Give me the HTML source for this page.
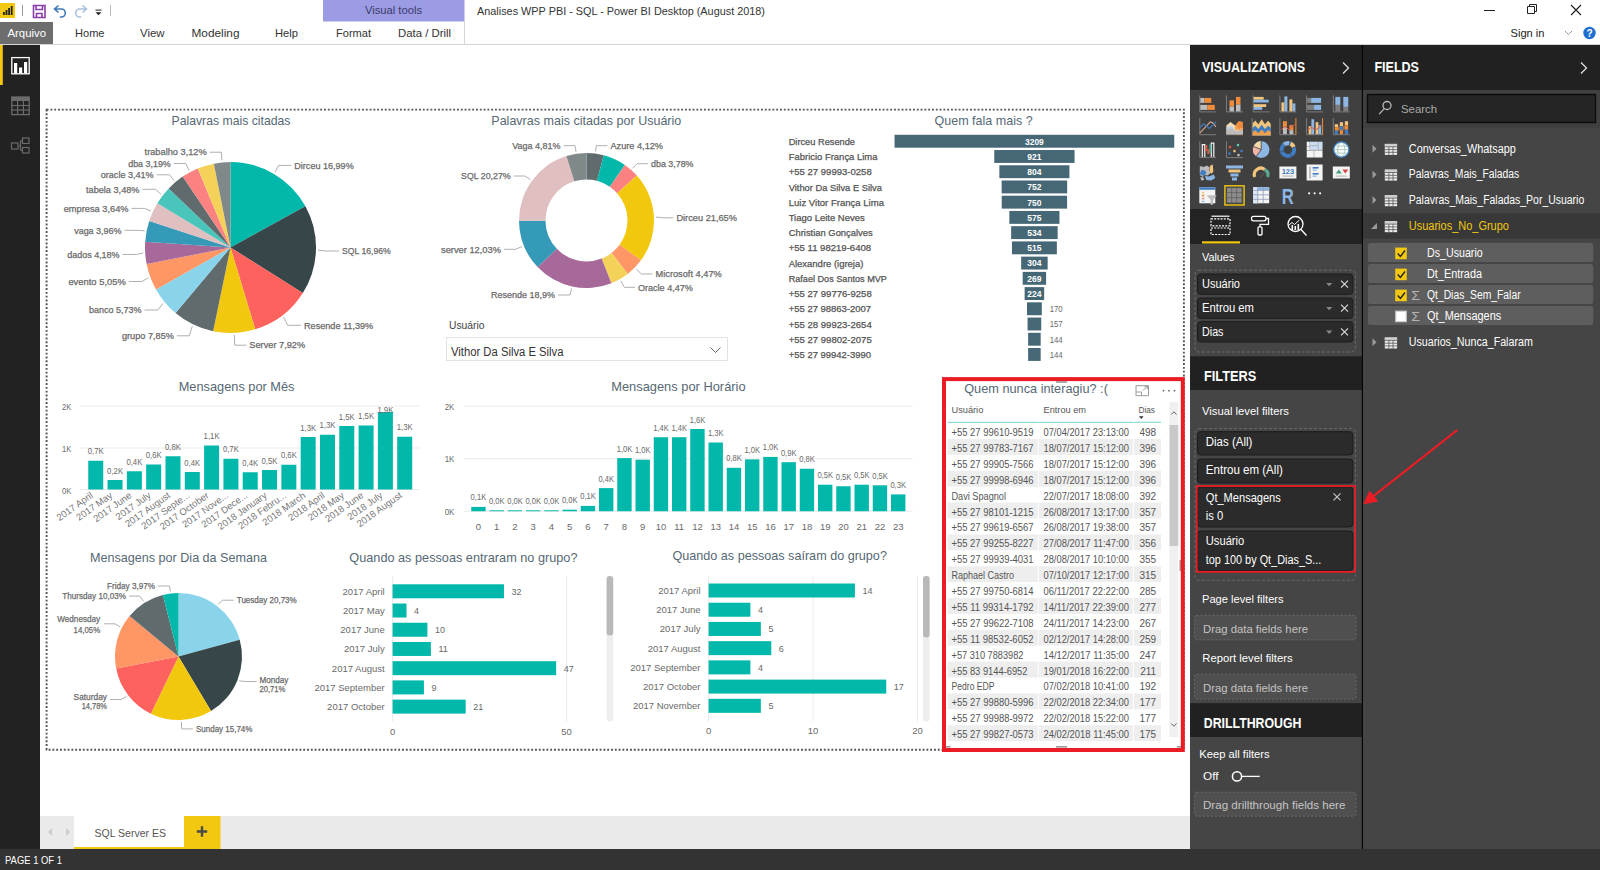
<!DOCTYPE html>
<html lang="pt-BR"><head><meta charset="utf-8"><title>Analises WPP PBI - SQL - Power BI Desktop</title>
<style>
html,body{margin:0;padding:0;background:#fff;width:1600px;height:870px;overflow:hidden}
svg{display:block;font-family:"Liberation Sans", sans-serif}
text{white-space:pre}
</style></head><body>
<svg width="1600" height="870" viewBox="0 0 1600 870">
<g id="titlebar">
<rect x="0.00" y="0.00" width="1600.00" height="45.00" fill="#ffffff"/>
<rect x="0.00" y="3.00" width="15.00" height="15.00" fill="#f2c811"/>
<rect x="3.00" y="12.00" width="1.80" height="3.00" fill="#222"/>
<rect x="5.60" y="10.00" width="1.80" height="5.00" fill="#222"/>
<rect x="8.20" y="8.00" width="1.80" height="7.00" fill="#222"/>
<rect x="10.80" y="6.00" width="1.80" height="9.00" fill="#222"/>
<line x1="22.50" y1="5.00" x2="22.50" y2="16.00" stroke="#999" stroke-width="1"/>
<path d="M33.5 5.5h11.5v12h-11.5z M36 5.5v4h6.5v-4 M36.5 17.5v-4h5.5v4" fill="none" stroke="#8a3fa8" stroke-width="1.6"/>
<path d="M58.5 5.5l-4 3.5 4 3.5 M54.8 9h6.5a4 4 0 0 1 0 8h-1.5" fill="none" stroke="#3c78b8" stroke-width="1.6"/>
<path d="M82.5 5.5l4 3.5-4 3.5 M86.2 9h-6.5a4 4 0 0 0 0 8h1.5" fill="none" stroke="#a9bfdb" stroke-width="1.6"/>
<rect x="95.50" y="9.50" width="6.00" height="1.20" fill="#444"/>
<path d="M95.5 12.2h6l-3 3z" fill="#222"/>
<line x1="110.50" y1="5.00" x2="110.50" y2="16.00" stroke="#bbb" stroke-width="1"/>
<rect x="323.00" y="0.00" width="141.50" height="21.50" fill="#9c9ce4"/>
<text x="393.5" y="13.6" font-size="11" fill="#3b3b6b" text-anchor="middle" textLength="57" lengthAdjust="spacingAndGlyphs">Visual tools</text>
<line x1="464.50" y1="21.00" x2="464.50" y2="44.00" stroke="#d8d8d8" stroke-width="1"/>
<text x="477.0" y="15.3" font-size="11.5" fill="#333" textLength="288" lengthAdjust="spacingAndGlyphs">Analises WPP PBI - SQL - Power BI Desktop (August 2018)</text>
<line x1="1484.00" y1="10.50" x2="1495.00" y2="10.50" stroke="#222" stroke-width="1"/>
<path d="M1527.5 6.5h7v7h-7z M1529.5 6.5v-2h7v7h-2" fill="none" stroke="#222" stroke-width="1"/>
<path d="M1571 5l10 10M1581 5l-10 10" stroke="#222" stroke-width="1.2"/>
<text x="1510.5" y="37.0" font-size="11.5" fill="#222" textLength="34" lengthAdjust="spacingAndGlyphs">Sign in</text>
<path d="M1565 31l3.5 3.5 3.5-3.5" fill="none" stroke="#999" stroke-width="1"/>
<circle cx="1589.5" cy="33" r="6.2" fill="#1f6fd0"/>
<text x="1589.5" y="37.0" font-size="10" fill="#fff" text-anchor="middle" font-weight="bold">?</text>
<rect x="0.00" y="22.00" width="53.00" height="22.00" fill="#6d6d6d"/>
<text x="7.5" y="36.8" font-size="11" fill="#fff" textLength="38.5" lengthAdjust="spacingAndGlyphs">Arquivo</text>
<text x="75.0" y="36.8" font-size="11" fill="#333" textLength="29.5" lengthAdjust="spacingAndGlyphs">Home</text>
<text x="140.0" y="36.8" font-size="11" fill="#333" textLength="24.5" lengthAdjust="spacingAndGlyphs">View</text>
<text x="191.5" y="36.8" font-size="11" fill="#333" textLength="48" lengthAdjust="spacingAndGlyphs">Modeling</text>
<text x="275.0" y="36.8" font-size="11" fill="#333" textLength="23" lengthAdjust="spacingAndGlyphs">Help</text>
<text x="336.0" y="36.8" font-size="11" fill="#333" textLength="35" lengthAdjust="spacingAndGlyphs">Format</text>
<text x="398.0" y="36.8" font-size="11" fill="#333" textLength="53" lengthAdjust="spacingAndGlyphs">Data / Drill</text>
<line x1="0.00" y1="44.50" x2="1600.00" y2="44.50" stroke="#d4d4d4" stroke-width="1"/>
</g>
<g id="leftnav">
<rect x="0.00" y="45.00" width="40.00" height="804.00" fill="#222222"/>
<rect x="0.00" y="45.00" width="2.80" height="40.00" fill="#f2c811"/>
<rect x="11.8" y="57.6" width="17.4" height="16.2" fill="none" stroke="#fff" stroke-width="1.3"/>
<rect x="14.00" y="63.00" width="3.20" height="10.50" fill="#fff"/>
<rect x="19.00" y="67.50" width="3.20" height="6.00" fill="#fff"/>
<rect x="24.00" y="62.00" width="3.20" height="11.50" fill="#fff"/>
<rect x="11.8" y="97" width="17.4" height="17.6" fill="none" stroke="#6b6b6b" stroke-width="1.3"/>
<rect x="11.80" y="97.00" width="17.40" height="4.00" fill="#6b6b6b"/>
<line x1="17.60" y1="101.00" x2="17.60" y2="114.60" stroke="#6b6b6b" stroke-width="1.2"/>
<line x1="23.40" y1="101.00" x2="23.40" y2="114.60" stroke="#6b6b6b" stroke-width="1.2"/>
<line x1="11.80" y1="105.50" x2="29.20" y2="105.50" stroke="#6b6b6b" stroke-width="1.2"/>
<line x1="11.80" y1="110.00" x2="29.20" y2="110.00" stroke="#6b6b6b" stroke-width="1.2"/>
<g fill="none" stroke="#6b6b6b" stroke-width="1.2"><rect x="11.5" y="143" width="6.5" height="6"/><rect x="22.5" y="138" width="6.5" height="5.5"/><rect x="22.5" y="147.5" width="6.5" height="5.5"/><path d="M18 146h2.5M20.5 140.8v9.5M20.5 140.8h2M20.5 150.3h2"/></g>
</g>
<g id="canvas">
<rect x="40.00" y="45.00" width="1150.00" height="771.00" fill="#ffffff"/>
<rect x="46.6" y="109.6" width="1137.3" height="640.1" fill="none" stroke="#555" stroke-width="1.9" stroke-dasharray="1.9 1.9"/>
<rect x="40.00" y="816.00" width="1150.00" height="33.00" fill="#eaeaea"/>
<path d="M52 828l-4 4 4 4z" fill="#ccc"/><path d="M66 828l4 4-4 4z" fill="#ccc"/>
<rect x="74.00" y="816.00" width="110.00" height="33.00" fill="#ffffff"/>
<rect x="74.00" y="847.00" width="110.00" height="2.00" fill="#f2c811"/>
<text x="94.5" y="836.5" font-size="11.5" fill="#555" textLength="71.5" lengthAdjust="spacingAndGlyphs">SQL Server ES</text>
<rect x="184.00" y="816.00" width="36.50" height="33.00" fill="#f2c811"/>
<path d="M202 826.3v10.400M196.800 831.500h10.400" stroke="#4a4a4a" stroke-width="2.4"/>
</g>
<rect x="0.00" y="849.00" width="1600.00" height="21.00" fill="#333333"/>
<text x="5.0" y="863.5" font-size="10.5" fill="#fff" textLength="57" lengthAdjust="spacingAndGlyphs">PAGE 1 OF 1</text>
<g id="pie-palavras">
<text x="231.0" y="125.0" font-size="13.5" fill="#566874" text-anchor="middle" textLength="119" lengthAdjust="spacingAndGlyphs">Palavras mais citadas</text>
<path d="M230.5 247.5L230.50 162.00A85.5 85.5 0 0 1 305.40 206.26Z" fill="#01B8AA"/>
<path d="M230.5 247.5L305.40 206.26A85.5 85.5 0 0 1 302.83 293.09Z" fill="#374649"/>
<path d="M230.5 247.5L302.83 293.09A85.5 85.5 0 0 1 255.18 329.36Z" fill="#FD625E"/>
<path d="M230.5 247.5L255.18 329.36A85.5 85.5 0 0 1 213.11 331.21Z" fill="#F2C80F"/>
<path d="M230.5 247.5L213.11 331.21A85.5 85.5 0 0 1 175.55 313.00Z" fill="#5F6B6D"/>
<path d="M230.5 247.5L175.55 313.00A85.5 85.5 0 0 1 155.99 289.44Z" fill="#8AD4EB"/>
<path d="M230.5 247.5L155.99 289.44A85.5 85.5 0 0 1 146.63 264.10Z" fill="#FE9666"/>
<path d="M230.5 247.5L146.63 264.10A85.5 85.5 0 0 1 145.19 241.76Z" fill="#A66999"/>
<path d="M230.5 247.5L145.19 241.76A85.5 85.5 0 0 1 149.23 220.93Z" fill="#3599B8"/>
<path d="M230.5 247.5L149.23 220.93A85.5 85.5 0 0 1 157.38 203.19Z" fill="#DFBFBF"/>
<path d="M230.5 247.5L157.38 203.19A85.5 85.5 0 0 1 168.73 188.39Z" fill="#4AC5BB"/>
<path d="M230.5 247.5L168.73 188.39A85.5 85.5 0 0 1 182.71 176.60Z" fill="#5F6B6D"/>
<path d="M230.5 247.5L182.71 176.60A85.5 85.5 0 0 1 197.78 168.51Z" fill="#FB8281"/>
<path d="M230.5 247.5L197.78 168.51A85.5 85.5 0 0 1 213.85 163.64Z" fill="#F4D25A"/>
<path d="M230.5 247.5L213.85 163.64A85.5 85.5 0 0 1 230.50 162.00Z" fill="#7F898A"/>
<text x="294.3" y="168.6" font-size="9" fill="#6a6a6a" textLength="59.4" lengthAdjust="spacingAndGlyphs" stroke="#6a6a6a" stroke-width="0.25">Dirceu 16,99%</text>
<path d="M275.0 172.2L278.6 165.4L291.3 165.4" fill="none" stroke="#b0b0b0" stroke-width="1"/>
<text x="342.0" y="254.2" font-size="9" fill="#6a6a6a" textLength="48.8" lengthAdjust="spacingAndGlyphs" stroke="#6a6a6a" stroke-width="0.25">SQL 16,96%</text>
<path d="M318.0 250.1L325.0 251.0L339.0 251.0" fill="none" stroke="#b0b0b0" stroke-width="1"/>
<text x="304.0" y="328.5" font-size="9" fill="#6a6a6a" textLength="69.2" lengthAdjust="spacingAndGlyphs" stroke="#6a6a6a" stroke-width="0.25">Resende 11,39%</text>
<path d="M283.5 317.1L287.7 325.3L301.0 325.3" fill="none" stroke="#b0b0b0" stroke-width="1"/>
<text x="249.3" y="348.4" font-size="9" fill="#6a6a6a" textLength="55.9" lengthAdjust="spacingAndGlyphs" stroke="#6a6a6a" stroke-width="0.25">Server 7,92%</text>
<path d="M234.3 334.9L234.7 345.2L246.3 345.2" fill="none" stroke="#b0b0b0" stroke-width="1"/>
<text x="121.9" y="339.0" font-size="9" fill="#6a6a6a" textLength="52.0" lengthAdjust="spacingAndGlyphs" stroke="#6a6a6a" stroke-width="0.25">grupo 7,85%</text>
<path d="M192.3 326.2L189.3 335.8L176.9 335.8" fill="none" stroke="#b0b0b0" stroke-width="1"/>
<text x="89.0" y="313.2" font-size="9" fill="#6a6a6a" textLength="52.5" lengthAdjust="spacingAndGlyphs" stroke="#6a6a6a" stroke-width="0.25">banco 5,73%</text>
<path d="M163.2 303.4L157.8 310.0L144.5 310.0" fill="none" stroke="#b0b0b0" stroke-width="1"/>
<text x="68.4" y="284.7" font-size="9" fill="#6a6a6a" textLength="57.4" lengthAdjust="spacingAndGlyphs" stroke="#6a6a6a" stroke-width="0.25">evento 5,05%</text>
<path d="M148.4 277.8L141.9 281.5L128.8 281.5" fill="none" stroke="#b0b0b0" stroke-width="1"/>
<text x="67.2" y="257.7" font-size="9" fill="#6a6a6a" textLength="52.4" lengthAdjust="spacingAndGlyphs" stroke="#6a6a6a" stroke-width="0.25">dados 4,18%</text>
<path d="M143.2 253.1L136.2 254.5L122.6 254.5" fill="none" stroke="#b0b0b0" stroke-width="1"/>
<text x="74.2" y="233.5" font-size="9" fill="#6a6a6a" textLength="47.3" lengthAdjust="spacingAndGlyphs" stroke="#6a6a6a" stroke-width="0.25">vaga 3,96%</text>
<path d="M144.6 230.8L137.7 230.3L124.5 230.3" fill="none" stroke="#b0b0b0" stroke-width="1"/>
<text x="63.7" y="211.6" font-size="9" fill="#6a6a6a" textLength="64.9" lengthAdjust="spacingAndGlyphs" stroke="#6a6a6a" stroke-width="0.25">empresa 3,64%</text>
<path d="M151.0 211.0L144.6 208.4L131.6 208.4" fill="none" stroke="#b0b0b0" stroke-width="1"/>
<text x="86.0" y="192.5" font-size="9" fill="#6a6a6a" textLength="53.5" lengthAdjust="spacingAndGlyphs" stroke="#6a6a6a" stroke-width="0.25">tabela 3,48%</text>
<path d="M161.1 194.3L155.5 189.3L142.5 189.3" fill="none" stroke="#b0b0b0" stroke-width="1"/>
<text x="100.8" y="178.0" font-size="9" fill="#6a6a6a" textLength="52.8" lengthAdjust="spacingAndGlyphs" stroke="#6a6a6a" stroke-width="0.25">oracle 3,41%</text>
<path d="M174.1 180.6L169.6 174.8L156.6 174.8" fill="none" stroke="#b0b0b0" stroke-width="1"/>
<text x="128.2" y="166.7" font-size="9" fill="#6a6a6a" textLength="42.6" lengthAdjust="spacingAndGlyphs" stroke="#6a6a6a" stroke-width="0.25">dba 3,19%</text>
<path d="M189.1 170.4L185.8 163.5L173.8 163.5" fill="none" stroke="#b0b0b0" stroke-width="1"/>
<text x="144.6" y="155.4" font-size="9" fill="#6a6a6a" textLength="62.1" lengthAdjust="spacingAndGlyphs" stroke="#6a6a6a" stroke-width="0.25">trabalho 3,12%</text>
<path d="M221.9 160.4L221.3 152.2L209.7 152.2" fill="none" stroke="#b0b0b0" stroke-width="1"/>
</g>
<g id="donut-usuario">
<text x="586.3" y="125.0" font-size="13.5" fill="#566874" text-anchor="middle" textLength="190" lengthAdjust="spacingAndGlyphs">Palavras mais citadas por Usuário</text>
<path d="M586.50 153.00A67.5 67.5 0 0 1 603.78 155.25L597.00 180.87A41 41 0 0 0 586.50 179.50Z" fill="#5F6B6D"/>
<path d="M603.78 155.25A67.5 67.5 0 0 1 624.86 164.96L609.80 186.76A41 41 0 0 0 597.00 180.87Z" fill="#01B8AA"/>
<path d="M624.86 164.96A67.5 67.5 0 0 1 636.85 175.54L617.08 193.19A41 41 0 0 0 609.80 186.76Z" fill="#FB8281"/>
<path d="M636.85 175.54A67.5 67.5 0 0 1 640.98 260.35L619.59 244.70A41 41 0 0 0 617.08 193.19Z" fill="#F2C80F"/>
<path d="M640.98 260.35A67.5 67.5 0 0 1 627.80 273.89L611.59 252.93A41 41 0 0 0 619.59 244.70Z" fill="#FE9666"/>
<path d="M627.80 273.89A67.5 67.5 0 0 1 611.39 283.24L601.62 258.61A41 41 0 0 0 611.59 252.93Z" fill="#F4D25A"/>
<path d="M611.39 283.24A67.5 67.5 0 0 1 537.62 267.05L556.81 248.77A41 41 0 0 0 601.62 258.61Z" fill="#A66999"/>
<path d="M537.62 267.05A67.5 67.5 0 0 1 519.00 220.84L545.50 220.71A41 41 0 0 0 556.81 248.77Z" fill="#3599B8"/>
<path d="M519.00 220.84A67.5 67.5 0 0 1 566.41 156.06L574.30 181.36A41 41 0 0 0 545.50 220.71Z" fill="#DFBFBF"/>
<path d="M566.41 156.06A67.5 67.5 0 0 1 586.50 153.00L586.50 179.50A41 41 0 0 0 574.30 181.36Z" fill="#7F898A"/>
<text x="610.5" y="148.9" font-size="9" fill="#6a6a6a" textLength="52.5" lengthAdjust="spacingAndGlyphs" stroke="#6a6a6a" stroke-width="0.25">Azure 4,12%</text>
<path d="M595.5 151.6L596.4 145.7L607.5 145.7" fill="none" stroke="#b0b0b0" stroke-width="1"/>
<text x="651.0" y="166.9" font-size="9" fill="#6a6a6a" textLength="42.5" lengthAdjust="spacingAndGlyphs" stroke="#6a6a6a" stroke-width="0.25">dba 3,78%</text>
<path d="M632.5 168.4L637.1 163.7L648.0 163.7" fill="none" stroke="#b0b0b0" stroke-width="1"/>
<text x="676.4" y="221.0" font-size="9" fill="#6a6a6a" textLength="60.6" lengthAdjust="spacingAndGlyphs" stroke="#6a6a6a" stroke-width="0.25">Dirceu 21,65%</text>
<path d="M655.9 217.1L662.9 217.8L673.4 217.8" fill="none" stroke="#b0b0b0" stroke-width="1"/>
<text x="655.5" y="277.2" font-size="9" fill="#6a6a6a" textLength="66.3" lengthAdjust="spacingAndGlyphs" stroke="#6a6a6a" stroke-width="0.25">Microsoft 4,47%</text>
<path d="M636.3 269.0L641.3 274.0L652.5 274.0" fill="none" stroke="#b0b0b0" stroke-width="1"/>
<text x="638.0" y="290.5" font-size="9" fill="#6a6a6a" textLength="54.8" lengthAdjust="spacingAndGlyphs" stroke="#6a6a6a" stroke-width="0.25">Oracle 4,47%</text>
<path d="M620.9 280.9L624.4 287.3L635.0 287.3" fill="none" stroke="#b0b0b0" stroke-width="1"/>
<text x="491.0" y="298.2" font-size="9" fill="#6a6a6a" textLength="64" lengthAdjust="spacingAndGlyphs" stroke="#6a6a6a" stroke-width="0.25">Resende 18,9%</text>
<path d="M571.6 288.4L570.1 295.0L558.0 295.0" fill="none" stroke="#b0b0b0" stroke-width="1"/>
<text x="441.0" y="252.5" font-size="9" fill="#6a6a6a" textLength="60" lengthAdjust="spacingAndGlyphs" stroke="#6a6a6a" stroke-width="0.25">server 12,03%</text>
<path d="M522.0 246.5L515.5 249.3L504.0 249.3" fill="none" stroke="#b0b0b0" stroke-width="1"/>
<text x="461.0" y="179.2" font-size="9" fill="#6a6a6a" textLength="49.7" lengthAdjust="spacingAndGlyphs" stroke="#6a6a6a" stroke-width="0.25">SQL 20,27%</text>
<path d="M530.4 179.5L524.8 176.0L513.7 176.0" fill="none" stroke="#b0b0b0" stroke-width="1"/>
<text x="512.3" y="148.9" font-size="9" fill="#6a6a6a" textLength="48.3" lengthAdjust="spacingAndGlyphs" stroke="#6a6a6a" stroke-width="0.25">Vaga 4,81%</text>
<path d="M576.0 151.8L575.0 145.7L563.6 145.7" fill="none" stroke="#b0b0b0" stroke-width="1"/>
<text x="449.0" y="328.5" font-size="11" fill="#444" textLength="35.5" lengthAdjust="spacingAndGlyphs">Usuário</text>
<rect x="446.5" y="337.5" width="281" height="23" fill="#fff" stroke="#e2e2e2" stroke-width="1"/>
<text x="451.0" y="355.5" font-size="12" fill="#333" textLength="112.5" lengthAdjust="spacingAndGlyphs">Vithor Da Silva E Silva</text>
<path d="M710.5 347.5l5 5 5-5" fill="none" stroke="#666" stroke-width="1"/>
</g>
<g id="funnel">
<text x="983.6" y="125.0" font-size="13.5" fill="#566874" text-anchor="middle" textLength="98" lengthAdjust="spacingAndGlyphs">Quem fala mais ?</text>
<rect x="894.55" y="134.80" width="279.70" height="12.90" fill="#466876"/>
<text x="788.7" y="144.8" font-size="9" fill="#555" textLength="66.3" lengthAdjust="spacingAndGlyphs" stroke="#555" stroke-width="0.25">Dirceu Resende</text>
<text x="1034.4" y="144.6" font-size="8.5" fill="#fff" text-anchor="middle" font-weight="bold">3209</text>
<rect x="994.26" y="150.03" width="80.28" height="12.90" fill="#466876"/>
<text x="788.7" y="160.0" font-size="9" fill="#555" textLength="88.8" lengthAdjust="spacingAndGlyphs" stroke="#555" stroke-width="0.25">Fabricio França Lima</text>
<text x="1034.4" y="159.8" font-size="8.5" fill="#fff" text-anchor="middle" font-weight="bold">921</text>
<rect x="999.36" y="165.26" width="70.08" height="12.90" fill="#466876"/>
<text x="788.7" y="175.3" font-size="9" fill="#555" textLength="83" lengthAdjust="spacingAndGlyphs" stroke="#555" stroke-width="0.25">+55 27 99993-0258</text>
<text x="1034.4" y="175.1" font-size="8.5" fill="#fff" text-anchor="middle" font-weight="bold">804</text>
<rect x="1001.63" y="180.49" width="65.55" height="12.90" fill="#466876"/>
<text x="788.7" y="190.5" font-size="9" fill="#555" textLength="93.3" lengthAdjust="spacingAndGlyphs" stroke="#555" stroke-width="0.25">Vithor Da Silva E Silva</text>
<text x="1034.4" y="190.3" font-size="8.5" fill="#fff" text-anchor="middle" font-weight="bold">752</text>
<rect x="1001.71" y="195.72" width="65.37" height="12.90" fill="#466876"/>
<text x="788.7" y="205.7" font-size="9" fill="#555" textLength="95.3" lengthAdjust="spacingAndGlyphs" stroke="#555" stroke-width="0.25">Luiz Vitor França Lima</text>
<text x="1034.4" y="205.5" font-size="8.5" fill="#fff" text-anchor="middle" font-weight="bold">750</text>
<rect x="1009.34" y="210.95" width="50.12" height="12.90" fill="#466876"/>
<text x="788.7" y="221.0" font-size="9" fill="#555" textLength="76" lengthAdjust="spacingAndGlyphs" stroke="#555" stroke-width="0.25">Tiago Leite Neves</text>
<text x="1034.4" y="220.8" font-size="8.5" fill="#fff" text-anchor="middle" font-weight="bold">575</text>
<rect x="1011.13" y="226.18" width="46.54" height="12.90" fill="#466876"/>
<text x="788.7" y="236.2" font-size="9" fill="#555" textLength="84" lengthAdjust="spacingAndGlyphs" stroke="#555" stroke-width="0.25">Christian Gonçalves</text>
<text x="1034.4" y="236.0" font-size="8.5" fill="#fff" text-anchor="middle" font-weight="bold">534</text>
<rect x="1011.96" y="241.41" width="44.89" height="12.90" fill="#466876"/>
<text x="788.7" y="251.4" font-size="9" fill="#555" textLength="82.4" lengthAdjust="spacingAndGlyphs" stroke="#555" stroke-width="0.25">+55 11 98219-6408</text>
<text x="1034.4" y="251.2" font-size="8.5" fill="#fff" text-anchor="middle" font-weight="bold">515</text>
<rect x="1021.15" y="256.64" width="26.50" height="12.90" fill="#466876"/>
<text x="788.7" y="266.6" font-size="9" fill="#555" textLength="74.7" lengthAdjust="spacingAndGlyphs" stroke="#555" stroke-width="0.25">Alexandre (igreja)</text>
<text x="1034.4" y="266.4" font-size="8.5" fill="#fff" text-anchor="middle" font-weight="bold">304</text>
<rect x="1022.68" y="271.87" width="23.45" height="12.90" fill="#466876"/>
<text x="788.7" y="281.9" font-size="9" fill="#555" textLength="98.2" lengthAdjust="spacingAndGlyphs" stroke="#555" stroke-width="0.25">Rafael Dos Santos MVP</text>
<text x="1034.4" y="281.7" font-size="8.5" fill="#fff" text-anchor="middle" font-weight="bold">269</text>
<rect x="1024.64" y="287.10" width="19.52" height="12.90" fill="#466876"/>
<text x="788.7" y="297.1" font-size="9" fill="#555" textLength="83" lengthAdjust="spacingAndGlyphs" stroke="#555" stroke-width="0.25">+55 27 99776-9258</text>
<text x="1034.4" y="296.9" font-size="8.5" fill="#fff" text-anchor="middle" font-weight="bold">224</text>
<rect x="1026.99" y="302.33" width="14.82" height="12.90" fill="#466876"/>
<text x="788.7" y="312.3" font-size="9" fill="#555" textLength="82.4" lengthAdjust="spacingAndGlyphs" stroke="#555" stroke-width="0.25">+55 27 98863-2007</text>
<text x="1049.7" y="312.1" font-size="8.5" fill="#6a6a6a" textLength="13" lengthAdjust="spacingAndGlyphs">170</text>
<rect x="1027.56" y="317.56" width="13.68" height="12.90" fill="#466876"/>
<text x="788.7" y="327.6" font-size="9" fill="#555" textLength="83" lengthAdjust="spacingAndGlyphs" stroke="#555" stroke-width="0.25">+55 28 99923-2654</text>
<text x="1049.7" y="327.4" font-size="8.5" fill="#6a6a6a" textLength="13" lengthAdjust="spacingAndGlyphs">157</text>
<rect x="1028.12" y="332.79" width="12.55" height="12.90" fill="#466876"/>
<text x="788.7" y="342.8" font-size="9" fill="#555" textLength="83" lengthAdjust="spacingAndGlyphs" stroke="#555" stroke-width="0.25">+55 27 99802-2075</text>
<text x="1049.7" y="342.6" font-size="8.5" fill="#6a6a6a" textLength="13" lengthAdjust="spacingAndGlyphs">144</text>
<rect x="1028.12" y="348.02" width="12.55" height="12.90" fill="#466876"/>
<text x="788.7" y="358.0" font-size="9" fill="#555" textLength="82.4" lengthAdjust="spacingAndGlyphs" stroke="#555" stroke-width="0.25">+55 27 99942-3990</text>
<text x="1049.7" y="357.8" font-size="8.5" fill="#6a6a6a" textLength="13" lengthAdjust="spacingAndGlyphs">144</text>
</g>
<g id="col-mes">
<text x="236.6" y="390.5" font-size="13.5" fill="#566874" text-anchor="middle" textLength="115.8" lengthAdjust="spacingAndGlyphs">Mensagens por Mês</text>
<line x1="80.00" y1="406.00" x2="420.00" y2="406.00" stroke="#ebebeb" stroke-width="1"/>
<text x="62.0" y="410.0" font-size="9" fill="#6a6a6a" textLength="9.3" lengthAdjust="spacingAndGlyphs">2K</text>
<line x1="80.00" y1="448.00" x2="420.00" y2="448.00" stroke="#ebebeb" stroke-width="1"/>
<text x="62.0" y="452.0" font-size="9" fill="#6a6a6a" textLength="9.3" lengthAdjust="spacingAndGlyphs">1K</text>
<line x1="80.00" y1="489.50" x2="420.00" y2="489.50" stroke="#ebebeb" stroke-width="1"/>
<text x="62.0" y="493.5" font-size="9" fill="#6a6a6a" textLength="9.3" lengthAdjust="spacingAndGlyphs">0K</text>
<rect x="88.25" y="460.75" width="15.00" height="28.75" fill="#01B8AA"/>
<text x="95.8" y="454.2" font-size="8.5" fill="#6a6a6a" text-anchor="middle" textLength="16" lengthAdjust="spacingAndGlyphs">0,7K</text>
<text x="93.8" y="496.8" font-size="9.5" fill="#787878" text-anchor="end" transform="rotate(-35.5 93.8 496.8)">2017 April</text>
<rect x="107.56" y="480.00" width="15.00" height="9.50" fill="#01B8AA"/>
<text x="115.1" y="473.5" font-size="8.5" fill="#6a6a6a" text-anchor="middle" textLength="16" lengthAdjust="spacingAndGlyphs">0,2K</text>
<text x="113.1" y="496.8" font-size="9.5" fill="#787878" text-anchor="end" transform="rotate(-35.5 113.1 496.8)">2017 May</text>
<rect x="126.87" y="471.25" width="15.00" height="18.25" fill="#01B8AA"/>
<text x="134.4" y="464.8" font-size="8.5" fill="#6a6a6a" text-anchor="middle" textLength="16" lengthAdjust="spacingAndGlyphs">0,4K</text>
<text x="132.4" y="496.8" font-size="9.5" fill="#787878" text-anchor="end" transform="rotate(-35.5 132.4 496.8)">2017 June</text>
<rect x="146.18" y="464.50" width="15.00" height="25.00" fill="#01B8AA"/>
<text x="153.7" y="458.0" font-size="8.5" fill="#6a6a6a" text-anchor="middle" textLength="16" lengthAdjust="spacingAndGlyphs">0,6K</text>
<text x="151.7" y="496.8" font-size="9.5" fill="#787878" text-anchor="end" transform="rotate(-35.5 151.7 496.8)">2017 July</text>
<rect x="165.49" y="456.25" width="15.00" height="33.25" fill="#01B8AA"/>
<text x="173.0" y="449.8" font-size="8.5" fill="#6a6a6a" text-anchor="middle" textLength="16" lengthAdjust="spacingAndGlyphs">0,8K</text>
<text x="171.0" y="496.8" font-size="9.5" fill="#787878" text-anchor="end" transform="rotate(-35.5 171.0 496.8)">2017 August</text>
<rect x="184.80" y="472.00" width="15.00" height="17.50" fill="#01B8AA"/>
<text x="192.3" y="465.5" font-size="8.5" fill="#6a6a6a" text-anchor="middle" textLength="16" lengthAdjust="spacingAndGlyphs">0,4K</text>
<text x="190.3" y="496.8" font-size="9.5" fill="#787878" text-anchor="end" transform="rotate(-35.5 190.3 496.8)">2017 Septe...</text>
<rect x="204.11" y="445.50" width="15.00" height="44.00" fill="#01B8AA"/>
<text x="211.6" y="439.0" font-size="8.5" fill="#6a6a6a" text-anchor="middle" textLength="16" lengthAdjust="spacingAndGlyphs">1,1K</text>
<text x="209.6" y="496.8" font-size="9.5" fill="#787878" text-anchor="end" transform="rotate(-35.5 209.6 496.8)">2017 October</text>
<rect x="223.42" y="458.75" width="15.00" height="30.75" fill="#01B8AA"/>
<text x="230.9" y="452.2" font-size="8.5" fill="#6a6a6a" text-anchor="middle" textLength="16" lengthAdjust="spacingAndGlyphs">0,7K</text>
<text x="228.9" y="496.8" font-size="9.5" fill="#787878" text-anchor="end" transform="rotate(-35.5 228.9 496.8)">2017 Nove...</text>
<rect x="242.73" y="472.25" width="15.00" height="17.25" fill="#01B8AA"/>
<text x="250.2" y="465.8" font-size="8.5" fill="#6a6a6a" text-anchor="middle" textLength="16" lengthAdjust="spacingAndGlyphs">0,4K</text>
<text x="248.2" y="496.8" font-size="9.5" fill="#787878" text-anchor="end" transform="rotate(-35.5 248.2 496.8)">2017 Dece...</text>
<rect x="262.04" y="470.00" width="15.00" height="19.50" fill="#01B8AA"/>
<text x="269.5" y="463.5" font-size="8.5" fill="#6a6a6a" text-anchor="middle" textLength="16" lengthAdjust="spacingAndGlyphs">0,5K</text>
<text x="267.5" y="496.8" font-size="9.5" fill="#787878" text-anchor="end" transform="rotate(-35.5 267.5 496.8)">2018 January</text>
<rect x="281.35" y="464.75" width="15.00" height="24.75" fill="#01B8AA"/>
<text x="288.9" y="458.2" font-size="8.5" fill="#6a6a6a" text-anchor="middle" textLength="16" lengthAdjust="spacingAndGlyphs">0,6K</text>
<text x="286.9" y="496.8" font-size="9.5" fill="#787878" text-anchor="end" transform="rotate(-35.5 286.9 496.8)">2018 Febru...</text>
<rect x="300.66" y="437.00" width="15.00" height="52.50" fill="#01B8AA"/>
<text x="308.2" y="430.5" font-size="8.5" fill="#6a6a6a" text-anchor="middle" textLength="16" lengthAdjust="spacingAndGlyphs">1,3K</text>
<text x="306.2" y="496.8" font-size="9.5" fill="#787878" text-anchor="end" transform="rotate(-35.5 306.2 496.8)">2018 March</text>
<rect x="319.97" y="434.75" width="15.00" height="54.75" fill="#01B8AA"/>
<text x="327.5" y="428.2" font-size="8.5" fill="#6a6a6a" text-anchor="middle" textLength="16" lengthAdjust="spacingAndGlyphs">1,3K</text>
<text x="325.5" y="496.8" font-size="9.5" fill="#787878" text-anchor="end" transform="rotate(-35.5 325.5 496.8)">2018 April</text>
<rect x="339.28" y="426.00" width="15.00" height="63.50" fill="#01B8AA"/>
<text x="346.8" y="419.5" font-size="8.5" fill="#6a6a6a" text-anchor="middle" textLength="16" lengthAdjust="spacingAndGlyphs">1,5K</text>
<text x="344.8" y="496.8" font-size="9.5" fill="#787878" text-anchor="end" transform="rotate(-35.5 344.8 496.8)">2018 May</text>
<rect x="358.59" y="425.50" width="15.00" height="64.00" fill="#01B8AA"/>
<text x="366.1" y="419.0" font-size="8.5" fill="#6a6a6a" text-anchor="middle" textLength="16" lengthAdjust="spacingAndGlyphs">1,5K</text>
<text x="364.1" y="496.8" font-size="9.5" fill="#787878" text-anchor="end" transform="rotate(-35.5 364.1 496.8)">2018 June</text>
<rect x="377.90" y="412.00" width="15.00" height="77.50" fill="#01B8AA"/>
<text x="385.4" y="412.5" font-size="8.5" fill="#6a6a6a" text-anchor="middle" textLength="16" lengthAdjust="spacingAndGlyphs">1,9K</text>
<text x="383.4" y="496.8" font-size="9.5" fill="#787878" text-anchor="end" transform="rotate(-35.5 383.4 496.8)">2018 July</text>
<rect x="397.21" y="436.75" width="15.00" height="52.75" fill="#01B8AA"/>
<text x="404.7" y="430.2" font-size="8.5" fill="#6a6a6a" text-anchor="middle" textLength="16" lengthAdjust="spacingAndGlyphs">1,3K</text>
<text x="402.7" y="496.8" font-size="9.5" fill="#787878" text-anchor="end" transform="rotate(-35.5 402.7 496.8)">2018 August</text>
</g>
<g id="col-horario">
<text x="678.4" y="390.5" font-size="13.5" fill="#566874" text-anchor="middle" textLength="134.4" lengthAdjust="spacingAndGlyphs">Mensagens por Horário</text>
<line x1="463.75" y1="406.25" x2="912.80" y2="406.25" stroke="#ebebeb" stroke-width="1"/>
<text x="444.7" y="409.9" font-size="9" fill="#6a6a6a" textLength="9.7" lengthAdjust="spacingAndGlyphs">2K</text>
<line x1="463.75" y1="458.75" x2="912.80" y2="458.75" stroke="#ebebeb" stroke-width="1"/>
<text x="444.7" y="462.4" font-size="9" fill="#6a6a6a" textLength="9.7" lengthAdjust="spacingAndGlyphs">1K</text>
<line x1="463.75" y1="511.25" x2="912.80" y2="511.25" stroke="#ebebeb" stroke-width="1"/>
<text x="444.7" y="515.0" font-size="9" fill="#6a6a6a" textLength="9.7" lengthAdjust="spacingAndGlyphs">0K</text>
<rect x="471.25" y="506.90" width="14.40" height="4.35" fill="#01B8AA"/>
<text x="478.4" y="500.4" font-size="8.5" fill="#6a6a6a" text-anchor="middle" textLength="15.6" lengthAdjust="spacingAndGlyphs">0,1K</text>
<text x="478.4" y="529.8" font-size="9.5" fill="#6a6a6a" text-anchor="middle">0</text>
<rect x="489.50" y="510.30" width="14.40" height="0.95" fill="#01B8AA"/>
<text x="496.7" y="503.8" font-size="8.5" fill="#6a6a6a" text-anchor="middle" textLength="15.6" lengthAdjust="spacingAndGlyphs">0,0K</text>
<text x="496.7" y="529.8" font-size="9.5" fill="#6a6a6a" text-anchor="middle">1</text>
<rect x="507.75" y="510.30" width="14.40" height="0.95" fill="#01B8AA"/>
<text x="515.0" y="503.8" font-size="8.5" fill="#6a6a6a" text-anchor="middle" textLength="15.6" lengthAdjust="spacingAndGlyphs">0,0K</text>
<text x="515.0" y="529.8" font-size="9.5" fill="#6a6a6a" text-anchor="middle">2</text>
<rect x="526.00" y="510.30" width="14.40" height="0.95" fill="#01B8AA"/>
<text x="533.2" y="503.8" font-size="8.5" fill="#6a6a6a" text-anchor="middle" textLength="15.6" lengthAdjust="spacingAndGlyphs">0,0K</text>
<text x="533.2" y="529.8" font-size="9.5" fill="#6a6a6a" text-anchor="middle">3</text>
<rect x="544.25" y="510.30" width="14.40" height="0.95" fill="#01B8AA"/>
<text x="551.5" y="503.8" font-size="8.5" fill="#6a6a6a" text-anchor="middle" textLength="15.6" lengthAdjust="spacingAndGlyphs">0,0K</text>
<text x="551.5" y="529.8" font-size="9.5" fill="#6a6a6a" text-anchor="middle">4</text>
<rect x="562.50" y="509.70" width="14.40" height="1.55" fill="#01B8AA"/>
<text x="569.7" y="503.2" font-size="8.5" fill="#6a6a6a" text-anchor="middle" textLength="15.6" lengthAdjust="spacingAndGlyphs">0,0K</text>
<text x="569.7" y="529.8" font-size="9.5" fill="#6a6a6a" text-anchor="middle">5</text>
<rect x="580.75" y="505.90" width="14.40" height="5.35" fill="#01B8AA"/>
<text x="588.0" y="499.4" font-size="8.5" fill="#6a6a6a" text-anchor="middle" textLength="15.6" lengthAdjust="spacingAndGlyphs">0,1K</text>
<text x="588.0" y="529.8" font-size="9.5" fill="#6a6a6a" text-anchor="middle">6</text>
<rect x="599.00" y="488.10" width="14.40" height="23.15" fill="#01B8AA"/>
<text x="606.2" y="481.6" font-size="8.5" fill="#6a6a6a" text-anchor="middle" textLength="15.6" lengthAdjust="spacingAndGlyphs">0,4K</text>
<text x="606.2" y="529.8" font-size="9.5" fill="#6a6a6a" text-anchor="middle">7</text>
<rect x="617.25" y="458.10" width="14.40" height="53.15" fill="#01B8AA"/>
<text x="624.5" y="451.6" font-size="8.5" fill="#6a6a6a" text-anchor="middle" textLength="15.6" lengthAdjust="spacingAndGlyphs">1,0K</text>
<text x="624.5" y="529.8" font-size="9.5" fill="#6a6a6a" text-anchor="middle">8</text>
<rect x="635.50" y="459.70" width="14.40" height="51.55" fill="#01B8AA"/>
<text x="642.7" y="453.2" font-size="8.5" fill="#6a6a6a" text-anchor="middle" textLength="15.6" lengthAdjust="spacingAndGlyphs">1,0K</text>
<text x="642.7" y="529.8" font-size="9.5" fill="#6a6a6a" text-anchor="middle">9</text>
<rect x="653.75" y="437.20" width="14.40" height="74.05" fill="#01B8AA"/>
<text x="661.0" y="430.7" font-size="8.5" fill="#6a6a6a" text-anchor="middle" textLength="15.6" lengthAdjust="spacingAndGlyphs">1,4K</text>
<text x="661.0" y="529.8" font-size="9.5" fill="#6a6a6a" text-anchor="middle">10</text>
<rect x="672.00" y="437.20" width="14.40" height="74.05" fill="#01B8AA"/>
<text x="679.2" y="430.7" font-size="8.5" fill="#6a6a6a" text-anchor="middle" textLength="15.6" lengthAdjust="spacingAndGlyphs">1,4K</text>
<text x="679.2" y="529.8" font-size="9.5" fill="#6a6a6a" text-anchor="middle">11</text>
<rect x="690.25" y="429.00" width="14.40" height="82.25" fill="#01B8AA"/>
<text x="697.5" y="422.5" font-size="8.5" fill="#6a6a6a" text-anchor="middle" textLength="15.6" lengthAdjust="spacingAndGlyphs">1,6K</text>
<text x="697.5" y="529.8" font-size="9.5" fill="#6a6a6a" text-anchor="middle">12</text>
<rect x="708.50" y="442.50" width="14.40" height="68.75" fill="#01B8AA"/>
<text x="715.7" y="436.0" font-size="8.5" fill="#6a6a6a" text-anchor="middle" textLength="15.6" lengthAdjust="spacingAndGlyphs">1,3K</text>
<text x="715.7" y="529.8" font-size="9.5" fill="#6a6a6a" text-anchor="middle">13</text>
<rect x="726.75" y="467.80" width="14.40" height="43.45" fill="#01B8AA"/>
<text x="734.0" y="461.3" font-size="8.5" fill="#6a6a6a" text-anchor="middle" textLength="15.6" lengthAdjust="spacingAndGlyphs">0,8K</text>
<text x="734.0" y="529.8" font-size="9.5" fill="#6a6a6a" text-anchor="middle">14</text>
<rect x="745.00" y="459.40" width="14.40" height="51.85" fill="#01B8AA"/>
<text x="752.2" y="452.9" font-size="8.5" fill="#6a6a6a" text-anchor="middle" textLength="15.6" lengthAdjust="spacingAndGlyphs">1,0K</text>
<text x="752.2" y="529.8" font-size="9.5" fill="#6a6a6a" text-anchor="middle">15</text>
<rect x="763.25" y="456.90" width="14.40" height="54.35" fill="#01B8AA"/>
<text x="770.5" y="450.4" font-size="8.5" fill="#6a6a6a" text-anchor="middle" textLength="15.6" lengthAdjust="spacingAndGlyphs">1,0K</text>
<text x="770.5" y="529.8" font-size="9.5" fill="#6a6a6a" text-anchor="middle">16</text>
<rect x="781.50" y="462.20" width="14.40" height="49.05" fill="#01B8AA"/>
<text x="788.7" y="455.7" font-size="8.5" fill="#6a6a6a" text-anchor="middle" textLength="15.6" lengthAdjust="spacingAndGlyphs">0,9K</text>
<text x="788.7" y="529.8" font-size="9.5" fill="#6a6a6a" text-anchor="middle">17</text>
<rect x="799.75" y="468.75" width="14.40" height="42.50" fill="#01B8AA"/>
<text x="807.0" y="462.2" font-size="8.5" fill="#6a6a6a" text-anchor="middle" textLength="15.6" lengthAdjust="spacingAndGlyphs">0,8K</text>
<text x="807.0" y="529.8" font-size="9.5" fill="#6a6a6a" text-anchor="middle">18</text>
<rect x="818.00" y="484.70" width="14.40" height="26.55" fill="#01B8AA"/>
<text x="825.2" y="478.2" font-size="8.5" fill="#6a6a6a" text-anchor="middle" textLength="15.6" lengthAdjust="spacingAndGlyphs">0,5K</text>
<text x="825.2" y="529.8" font-size="9.5" fill="#6a6a6a" text-anchor="middle">19</text>
<rect x="836.25" y="486.25" width="14.40" height="25.00" fill="#01B8AA"/>
<text x="843.5" y="479.8" font-size="8.5" fill="#6a6a6a" text-anchor="middle" textLength="15.6" lengthAdjust="spacingAndGlyphs">0,5K</text>
<text x="843.5" y="529.8" font-size="9.5" fill="#6a6a6a" text-anchor="middle">20</text>
<rect x="854.50" y="484.70" width="14.40" height="26.55" fill="#01B8AA"/>
<text x="861.7" y="478.2" font-size="8.5" fill="#6a6a6a" text-anchor="middle" textLength="15.6" lengthAdjust="spacingAndGlyphs">0,5K</text>
<text x="861.7" y="529.8" font-size="9.5" fill="#6a6a6a" text-anchor="middle">21</text>
<rect x="872.75" y="485.30" width="14.40" height="25.95" fill="#01B8AA"/>
<text x="880.0" y="478.8" font-size="8.5" fill="#6a6a6a" text-anchor="middle" textLength="15.6" lengthAdjust="spacingAndGlyphs">0,5K</text>
<text x="880.0" y="529.8" font-size="9.5" fill="#6a6a6a" text-anchor="middle">22</text>
<rect x="891.00" y="494.40" width="14.40" height="16.85" fill="#01B8AA"/>
<text x="898.2" y="487.9" font-size="8.5" fill="#6a6a6a" text-anchor="middle" textLength="15.6" lengthAdjust="spacingAndGlyphs">0,3K</text>
<text x="898.2" y="529.8" font-size="9.5" fill="#6a6a6a" text-anchor="middle">23</text>
</g>
<g id="pie-semana">
<text x="178.5" y="562.0" font-size="13.5" fill="#566874" text-anchor="middle" textLength="177" lengthAdjust="spacingAndGlyphs">Mensagens por Dia da Semana</text>
<path d="M178.5 656.5L178.50 593.00A63.5 63.5 0 0 1 239.73 639.66Z" fill="#8AD4EB"/>
<path d="M178.5 656.5L239.73 639.66A63.5 63.5 0 0 1 211.04 711.03Z" fill="#374649"/>
<path d="M178.5 656.5L211.04 711.03A63.5 63.5 0 0 1 150.84 713.66Z" fill="#F2C80F"/>
<path d="M178.5 656.5L150.84 713.66A63.5 63.5 0 0 1 116.16 668.58Z" fill="#FD625E"/>
<path d="M178.5 656.5L116.16 668.58A63.5 63.5 0 0 1 129.58 616.02Z" fill="#FE9666"/>
<path d="M178.5 656.5L129.58 616.02A63.5 63.5 0 0 1 162.83 594.96Z" fill="#5F6B6D"/>
<path d="M178.5 656.5L162.83 594.96A63.5 63.5 0 0 1 178.50 593.00Z" fill="#01B8AA"/>
<text x="236.8" y="603.4" font-size="9" fill="#6a6a6a" textLength="59.9" lengthAdjust="spacingAndGlyphs" stroke="#6a6a6a" stroke-width="0.25">Tuesday 20,73%</text>
<path d="M218.2 604.4L222.4 600.2L233.8 600.2" fill="none" stroke="#b0b0b0" stroke-width="1"/>
<text x="259.5" y="682.6" font-size="9" fill="#6a6a6a" textLength="28.9" lengthAdjust="spacingAndGlyphs" stroke="#6a6a6a" stroke-width="0.25">Monday</text>
<text x="259.5" y="692.2" font-size="9" fill="#6a6a6a" textLength="25.8" lengthAdjust="spacingAndGlyphs" stroke="#6a6a6a" stroke-width="0.25">20,71%</text>
<path d="M239.3 680.9L245.8 681.5L256.5 681.5" fill="none" stroke="#b0b0b0" stroke-width="1"/>
<text x="196.0" y="732.1" font-size="9" fill="#6a6a6a" textLength="56.4" lengthAdjust="spacingAndGlyphs" stroke="#6a6a6a" stroke-width="0.25">Sunday 15,74%</text>
<path d="M181.4 721.9L181.7 728.9L193.0 728.9" fill="none" stroke="#b0b0b0" stroke-width="1"/>
<text x="73.6" y="699.7" font-size="9" fill="#6a6a6a" textLength="33.4" lengthAdjust="spacingAndGlyphs" stroke="#6a6a6a" stroke-width="0.25">Saturday</text>
<text x="81.7" y="709.4" font-size="9" fill="#6a6a6a" textLength="25.3" lengthAdjust="spacingAndGlyphs" stroke="#6a6a6a" stroke-width="0.25">14,78%</text>
<path d="M126.6 696.4L121.0 699.5L110.0 699.5" fill="none" stroke="#b0b0b0" stroke-width="1"/>
<text x="57.2" y="622.4" font-size="9" fill="#6a6a6a" textLength="43.0" lengthAdjust="spacingAndGlyphs" stroke="#6a6a6a" stroke-width="0.25">Wednesday</text>
<text x="73.6" y="632.5" font-size="9" fill="#6a6a6a" textLength="26.6" lengthAdjust="spacingAndGlyphs" stroke="#6a6a6a" stroke-width="0.25">14,05%</text>
<path d="M104.2 623.8H115L120.3 627" fill="none" stroke="#b0b0b0" stroke-width="1"/>
<text x="62.3" y="599.3" font-size="9" fill="#6a6a6a" textLength="63.7" lengthAdjust="spacingAndGlyphs" stroke="#6a6a6a" stroke-width="0.25">Thursday 10,03%</text>
<path d="M143.5 601.2L139.7 596.1L129.0 596.1" fill="none" stroke="#b0b0b0" stroke-width="1"/>
<text x="107.0" y="589.2" font-size="9" fill="#6a6a6a" textLength="48" lengthAdjust="spacingAndGlyphs" stroke="#6a6a6a" stroke-width="0.25">Friday 3,97%</text>
<path d="M170.4 591.5L169.5 586.0L158.0 586.0" fill="none" stroke="#b0b0b0" stroke-width="1"/>
</g>
<g id="bar-entraram">
<text x="463.4" y="562.0" font-size="13.5" fill="#566874" text-anchor="middle" textLength="228.2" lengthAdjust="spacingAndGlyphs">Quando as pessoas entraram no grupo?</text>
<line x1="392.60" y1="576.00" x2="392.60" y2="721.50" stroke="#ebebeb" stroke-width="1"/>
<text x="392.6" y="734.8" font-size="9.5" fill="#6a6a6a" text-anchor="middle">0</text>
<line x1="566.60" y1="576.00" x2="566.60" y2="721.50" stroke="#ebebeb" stroke-width="1"/>
<text x="566.6" y="734.8" font-size="9.5" fill="#6a6a6a" text-anchor="middle">50</text>
<rect x="392.60" y="584.30" width="111.36" height="14.00" fill="#01B8AA"/>
<text x="384.7" y="594.7" font-size="9.5" fill="#6a6a6a" text-anchor="end">2017 April</text>
<text x="511.5" y="594.7" font-size="9" fill="#6a6a6a">32</text>
<rect x="392.60" y="603.52" width="13.92" height="14.00" fill="#01B8AA"/>
<text x="384.7" y="613.9" font-size="9.5" fill="#6a6a6a" text-anchor="end">2017 May</text>
<text x="414.0" y="613.9" font-size="9" fill="#6a6a6a">4</text>
<rect x="392.60" y="622.74" width="34.80" height="14.00" fill="#01B8AA"/>
<text x="384.7" y="633.1" font-size="9.5" fill="#6a6a6a" text-anchor="end">2017 June</text>
<text x="434.9" y="633.1" font-size="9" fill="#6a6a6a">10</text>
<rect x="392.60" y="641.96" width="38.28" height="14.00" fill="#01B8AA"/>
<text x="384.7" y="652.4" font-size="9.5" fill="#6a6a6a" text-anchor="end">2017 July</text>
<text x="438.4" y="652.4" font-size="9" fill="#6a6a6a">11</text>
<rect x="392.60" y="661.18" width="163.56" height="14.00" fill="#01B8AA"/>
<text x="384.7" y="671.6" font-size="9.5" fill="#6a6a6a" text-anchor="end">2017 August</text>
<text x="563.7" y="671.6" font-size="9" fill="#6a6a6a">47</text>
<rect x="392.60" y="680.40" width="31.32" height="14.00" fill="#01B8AA"/>
<text x="384.7" y="690.8" font-size="9.5" fill="#6a6a6a" text-anchor="end">2017 September</text>
<text x="431.4" y="690.8" font-size="9" fill="#6a6a6a">9</text>
<rect x="392.60" y="699.62" width="73.08" height="14.00" fill="#01B8AA"/>
<text x="384.7" y="710.0" font-size="9.5" fill="#6a6a6a" text-anchor="end">2017 October</text>
<text x="473.2" y="710.0" font-size="9" fill="#6a6a6a">21</text>
<rect x="606.6" y="576" width="6.6" height="145.5" rx="3" fill="#eeeeee"/>
<rect x="606.6" y="576" width="6.6" height="59.6" rx="3" fill="#b9b9b9"/>
</g>
<g id="bar-sairam">
<text x="779.7" y="560.2" font-size="13.5" fill="#566874" text-anchor="middle" textLength="214.4" lengthAdjust="spacingAndGlyphs">Quando as pessoas saíram do grupo?</text>
<line x1="708.60" y1="576.00" x2="708.60" y2="721.50" stroke="#ebebeb" stroke-width="1"/>
<text x="708.6" y="734.0" font-size="9.5" fill="#6a6a6a" text-anchor="middle">0</text>
<line x1="813.10" y1="576.00" x2="813.10" y2="721.50" stroke="#ebebeb" stroke-width="1"/>
<text x="813.1" y="734.0" font-size="9.5" fill="#6a6a6a" text-anchor="middle">10</text>
<line x1="917.60" y1="576.00" x2="917.60" y2="721.50" stroke="#ebebeb" stroke-width="1"/>
<text x="917.6" y="734.0" font-size="9.5" fill="#6a6a6a" text-anchor="middle">20</text>
<rect x="708.60" y="583.50" width="146.30" height="14.00" fill="#01B8AA"/>
<text x="700.5" y="593.9" font-size="9.5" fill="#6a6a6a" text-anchor="end">2017 April</text>
<text x="862.4" y="593.9" font-size="9" fill="#6a6a6a">14</text>
<rect x="708.60" y="602.72" width="41.80" height="14.00" fill="#01B8AA"/>
<text x="700.5" y="613.1" font-size="9.5" fill="#6a6a6a" text-anchor="end">2017 June</text>
<text x="757.9" y="613.1" font-size="9" fill="#6a6a6a">4</text>
<rect x="708.60" y="621.94" width="52.25" height="14.00" fill="#01B8AA"/>
<text x="700.5" y="632.3" font-size="9.5" fill="#6a6a6a" text-anchor="end">2017 July</text>
<text x="768.4" y="632.3" font-size="9" fill="#6a6a6a">5</text>
<rect x="708.60" y="641.16" width="62.70" height="14.00" fill="#01B8AA"/>
<text x="700.5" y="651.6" font-size="9.5" fill="#6a6a6a" text-anchor="end">2017 August</text>
<text x="778.8" y="651.6" font-size="9" fill="#6a6a6a">6</text>
<rect x="708.60" y="660.38" width="41.80" height="14.00" fill="#01B8AA"/>
<text x="700.5" y="670.8" font-size="9.5" fill="#6a6a6a" text-anchor="end">2017 September</text>
<text x="757.9" y="670.8" font-size="9" fill="#6a6a6a">4</text>
<rect x="708.60" y="679.60" width="177.65" height="14.00" fill="#01B8AA"/>
<text x="700.5" y="690.0" font-size="9.5" fill="#6a6a6a" text-anchor="end">2017 October</text>
<text x="893.8" y="690.0" font-size="9" fill="#6a6a6a">17</text>
<rect x="708.60" y="698.82" width="52.25" height="14.00" fill="#01B8AA"/>
<text x="700.5" y="709.2" font-size="9.5" fill="#6a6a6a" text-anchor="end">2017 November</text>
<text x="768.4" y="709.2" font-size="9" fill="#6a6a6a">5</text>
<rect x="923.0" y="576" width="6.6" height="145.5" rx="3" fill="#eeeeee"/>
<rect x="923.0" y="576" width="6.6" height="61.6" rx="3" fill="#b9b9b9"/>
</g>
<g id="table-nunca">
<text x="964.2" y="393.2" font-size="13.5" fill="#566874" textLength="143.7" lengthAdjust="spacingAndGlyphs">Quem nunca interagiu? :(</text>
<path d="M1136 385.700h12.500v10h-12.500zM1136 392h5.500v3.700M1143 390.500l4-4M1144.300 386.300h3v3" fill="none" stroke="#9a9a9a" stroke-width="1"/>
<circle cx="1163.5" cy="390.7" r="0.9" fill="#666"/>
<circle cx="1169" cy="390.7" r="0.9" fill="#666"/>
<circle cx="1174.5" cy="390.7" r="0.9" fill="#666"/>
<text x="951.5" y="412.8" font-size="9.5" fill="#555" textLength="31.8" lengthAdjust="spacingAndGlyphs">Usuário</text>
<text x="1043.5" y="412.8" font-size="9.5" fill="#555" textLength="42.5" lengthAdjust="spacingAndGlyphs">Entrou em</text>
<text x="1138.4" y="412.8" font-size="9.5" fill="#555" textLength="16.6" lengthAdjust="spacingAndGlyphs">Dias</text>
<path d="M1139 416.3h4.6l-2.3 2.6z" fill="#333"/>
<line x1="947.60" y1="422.30" x2="1038.00" y2="422.30" stroke="#8edbd5" stroke-width="1.2"/>
<line x1="1038.50" y1="422.30" x2="1133.00" y2="422.30" stroke="#8edbd5" stroke-width="1.2"/>
<line x1="1133.50" y1="422.30" x2="1161.00" y2="422.30" stroke="#8edbd5" stroke-width="1.2"/>
<text x="951.5" y="436.0" font-size="10" fill="#555" textLength="82" lengthAdjust="spacingAndGlyphs">+55 27 99610-9519</text>
<text x="1043.5" y="436.0" font-size="10" fill="#555" textLength="85.5" lengthAdjust="spacingAndGlyphs">07/04/2017 23:13:00</text>
<text x="1156.2" y="436.0" font-size="10" fill="#555" text-anchor="end">498</text>
<rect x="947.60" y="439.00" width="90.20" height="15.90" fill="#eeeeee"/>
<rect x="1038.80" y="439.00" width="94.00" height="15.90" fill="#eeeeee"/>
<rect x="1133.80" y="439.00" width="27.20" height="15.90" fill="#eeeeee"/>
<text x="951.5" y="451.9" font-size="10" fill="#555" textLength="82" lengthAdjust="spacingAndGlyphs">+55 27 99783-7167</text>
<text x="1043.5" y="451.9" font-size="10" fill="#555" textLength="85.5" lengthAdjust="spacingAndGlyphs">18/07/2017 15:12:00</text>
<text x="1156.2" y="451.9" font-size="10" fill="#555" text-anchor="end">396</text>
<text x="951.5" y="467.8" font-size="10" fill="#555" textLength="82" lengthAdjust="spacingAndGlyphs">+55 27 99905-7566</text>
<text x="1043.5" y="467.8" font-size="10" fill="#555" textLength="85.5" lengthAdjust="spacingAndGlyphs">18/07/2017 15:12:00</text>
<text x="1156.2" y="467.8" font-size="10" fill="#555" text-anchor="end">396</text>
<rect x="947.60" y="470.80" width="90.20" height="15.90" fill="#eeeeee"/>
<rect x="1038.80" y="470.80" width="94.00" height="15.90" fill="#eeeeee"/>
<rect x="1133.80" y="470.80" width="27.20" height="15.90" fill="#eeeeee"/>
<text x="951.5" y="483.7" font-size="10" fill="#555" textLength="82" lengthAdjust="spacingAndGlyphs">+55 27 99998-6946</text>
<text x="1043.5" y="483.7" font-size="10" fill="#555" textLength="85.5" lengthAdjust="spacingAndGlyphs">18/07/2017 15:12:00</text>
<text x="1156.2" y="483.7" font-size="10" fill="#555" text-anchor="end">396</text>
<text x="951.5" y="499.6" font-size="10" fill="#555" textLength="54.5" lengthAdjust="spacingAndGlyphs">Davi Spagnol</text>
<text x="1043.5" y="499.6" font-size="10" fill="#555" textLength="85.5" lengthAdjust="spacingAndGlyphs">22/07/2017 18:08:00</text>
<text x="1156.2" y="499.6" font-size="10" fill="#555" text-anchor="end">392</text>
<rect x="947.60" y="502.60" width="90.20" height="15.90" fill="#eeeeee"/>
<rect x="1038.80" y="502.60" width="94.00" height="15.90" fill="#eeeeee"/>
<rect x="1133.80" y="502.60" width="27.20" height="15.90" fill="#eeeeee"/>
<text x="951.5" y="515.5" font-size="10" fill="#555" textLength="82" lengthAdjust="spacingAndGlyphs">+55 27 98101-1215</text>
<text x="1043.5" y="515.5" font-size="10" fill="#555" textLength="85.5" lengthAdjust="spacingAndGlyphs">26/08/2017 13:17:00</text>
<text x="1156.2" y="515.5" font-size="10" fill="#555" text-anchor="end">357</text>
<text x="951.5" y="531.4" font-size="10" fill="#555" textLength="82" lengthAdjust="spacingAndGlyphs">+55 27 99619-6567</text>
<text x="1043.5" y="531.4" font-size="10" fill="#555" textLength="85.5" lengthAdjust="spacingAndGlyphs">26/08/2017 19:38:00</text>
<text x="1156.2" y="531.4" font-size="10" fill="#555" text-anchor="end">357</text>
<rect x="947.60" y="534.40" width="90.20" height="15.90" fill="#eeeeee"/>
<rect x="1038.80" y="534.40" width="94.00" height="15.90" fill="#eeeeee"/>
<rect x="1133.80" y="534.40" width="27.20" height="15.90" fill="#eeeeee"/>
<text x="951.5" y="547.3" font-size="10" fill="#555" textLength="82" lengthAdjust="spacingAndGlyphs">+55 27 99255-8227</text>
<text x="1043.5" y="547.3" font-size="10" fill="#555" textLength="85.5" lengthAdjust="spacingAndGlyphs">27/08/2017 11:47:00</text>
<text x="1156.2" y="547.3" font-size="10" fill="#555" text-anchor="end">356</text>
<text x="951.5" y="563.2" font-size="10" fill="#555" textLength="82" lengthAdjust="spacingAndGlyphs">+55 27 99939-4031</text>
<text x="1043.5" y="563.2" font-size="10" fill="#555" textLength="85.5" lengthAdjust="spacingAndGlyphs">28/08/2017 10:10:00</text>
<text x="1156.2" y="563.2" font-size="10" fill="#555" text-anchor="end">355</text>
<rect x="947.60" y="566.20" width="90.20" height="15.90" fill="#eeeeee"/>
<rect x="1038.80" y="566.20" width="94.00" height="15.90" fill="#eeeeee"/>
<rect x="1133.80" y="566.20" width="27.20" height="15.90" fill="#eeeeee"/>
<text x="951.5" y="579.1" font-size="10" fill="#555" textLength="62.5" lengthAdjust="spacingAndGlyphs">Raphael Castro</text>
<text x="1043.5" y="579.1" font-size="10" fill="#555" textLength="85.5" lengthAdjust="spacingAndGlyphs">07/10/2017 12:17:00</text>
<text x="1156.2" y="579.1" font-size="10" fill="#555" text-anchor="end">315</text>
<text x="951.5" y="595.0" font-size="10" fill="#555" textLength="82" lengthAdjust="spacingAndGlyphs">+55 27 99750-6814</text>
<text x="1043.5" y="595.0" font-size="10" fill="#555" textLength="85.5" lengthAdjust="spacingAndGlyphs">06/11/2017 22:22:00</text>
<text x="1156.2" y="595.0" font-size="10" fill="#555" text-anchor="end">285</text>
<rect x="947.60" y="598.00" width="90.20" height="15.90" fill="#eeeeee"/>
<rect x="1038.80" y="598.00" width="94.00" height="15.90" fill="#eeeeee"/>
<rect x="1133.80" y="598.00" width="27.20" height="15.90" fill="#eeeeee"/>
<text x="951.5" y="610.9" font-size="10" fill="#555" textLength="82" lengthAdjust="spacingAndGlyphs">+55 11 99314-1792</text>
<text x="1043.5" y="610.9" font-size="10" fill="#555" textLength="85.5" lengthAdjust="spacingAndGlyphs">14/11/2017 22:39:00</text>
<text x="1156.2" y="610.9" font-size="10" fill="#555" text-anchor="end">277</text>
<text x="951.5" y="626.8" font-size="10" fill="#555" textLength="82" lengthAdjust="spacingAndGlyphs">+55 27 99622-7108</text>
<text x="1043.5" y="626.8" font-size="10" fill="#555" textLength="85.5" lengthAdjust="spacingAndGlyphs">24/11/2017 14:23:00</text>
<text x="1156.2" y="626.8" font-size="10" fill="#555" text-anchor="end">267</text>
<rect x="947.60" y="629.80" width="90.20" height="15.90" fill="#eeeeee"/>
<rect x="1038.80" y="629.80" width="94.00" height="15.90" fill="#eeeeee"/>
<rect x="1133.80" y="629.80" width="27.20" height="15.90" fill="#eeeeee"/>
<text x="951.5" y="642.7" font-size="10" fill="#555" textLength="82" lengthAdjust="spacingAndGlyphs">+55 11 98532-6052</text>
<text x="1043.5" y="642.7" font-size="10" fill="#555" textLength="85.5" lengthAdjust="spacingAndGlyphs">02/12/2017 14:28:00</text>
<text x="1156.2" y="642.7" font-size="10" fill="#555" text-anchor="end">259</text>
<text x="951.5" y="658.6" font-size="10" fill="#555" textLength="72" lengthAdjust="spacingAndGlyphs">+57 310 7883982</text>
<text x="1043.5" y="658.6" font-size="10" fill="#555" textLength="85.5" lengthAdjust="spacingAndGlyphs">14/12/2017 11:35:00</text>
<text x="1156.2" y="658.6" font-size="10" fill="#555" text-anchor="end">247</text>
<rect x="947.60" y="661.60" width="90.20" height="15.90" fill="#eeeeee"/>
<rect x="1038.80" y="661.60" width="94.00" height="15.90" fill="#eeeeee"/>
<rect x="1133.80" y="661.60" width="27.20" height="15.90" fill="#eeeeee"/>
<text x="951.5" y="674.5" font-size="10" fill="#555" textLength="76" lengthAdjust="spacingAndGlyphs">+55 83 9144-6952</text>
<text x="1043.5" y="674.5" font-size="10" fill="#555" textLength="85.5" lengthAdjust="spacingAndGlyphs">19/01/2018 16:22:00</text>
<text x="1156.2" y="674.5" font-size="10" fill="#555" text-anchor="end">211</text>
<text x="951.5" y="690.4" font-size="10" fill="#555" textLength="43" lengthAdjust="spacingAndGlyphs">Pedro EDP</text>
<text x="1043.5" y="690.4" font-size="10" fill="#555" textLength="85.5" lengthAdjust="spacingAndGlyphs">07/02/2018 10:41:00</text>
<text x="1156.2" y="690.4" font-size="10" fill="#555" text-anchor="end">192</text>
<rect x="947.60" y="693.40" width="90.20" height="15.90" fill="#eeeeee"/>
<rect x="1038.80" y="693.40" width="94.00" height="15.90" fill="#eeeeee"/>
<rect x="1133.80" y="693.40" width="27.20" height="15.90" fill="#eeeeee"/>
<text x="951.5" y="706.3" font-size="10" fill="#555" textLength="82" lengthAdjust="spacingAndGlyphs">+55 27 99880-5996</text>
<text x="1043.5" y="706.3" font-size="10" fill="#555" textLength="85.5" lengthAdjust="spacingAndGlyphs">22/02/2018 22:34:00</text>
<text x="1156.2" y="706.3" font-size="10" fill="#555" text-anchor="end">177</text>
<text x="951.5" y="722.2" font-size="10" fill="#555" textLength="82" lengthAdjust="spacingAndGlyphs">+55 27 99988-9972</text>
<text x="1043.5" y="722.2" font-size="10" fill="#555" textLength="85.5" lengthAdjust="spacingAndGlyphs">22/02/2018 15:22:00</text>
<text x="1156.2" y="722.2" font-size="10" fill="#555" text-anchor="end">177</text>
<rect x="947.60" y="725.20" width="90.20" height="15.90" fill="#eeeeee"/>
<rect x="1038.80" y="725.20" width="94.00" height="15.90" fill="#eeeeee"/>
<rect x="1133.80" y="725.20" width="27.20" height="15.90" fill="#eeeeee"/>
<text x="951.5" y="738.1" font-size="10" fill="#555" textLength="82" lengthAdjust="spacingAndGlyphs">+55 27 99827-0573</text>
<text x="1043.5" y="738.1" font-size="10" fill="#555" textLength="85.5" lengthAdjust="spacingAndGlyphs">24/02/2018 11:45:00</text>
<text x="1156.2" y="738.1" font-size="10" fill="#555" text-anchor="end">175</text>
<rect x="1169.50" y="402.00" width="8.80" height="335.00" fill="#f0f0f0"/>
<rect x="1169.50" y="425.00" width="8.80" height="121.00" fill="#c9c9c9"/>
<path d="M1171.3 414.5l2.6-2.8 2.6 2.8M1171.3 723.5l2.6 2.8 2.6-2.8" fill="none" stroke="#666" stroke-width="1"/>
<rect x="1056.00" y="381.20" width="11.00" height="1.60" fill="#9a9a9a"/>
<rect x="1056.00" y="746.00" width="11.00" height="1.60" fill="#9a9a9a"/>
<rect x="945.50" y="746.00" width="5.00" height="1.60" fill="#9a9a9a"/>
<rect x="1177.00" y="746.00" width="5.00" height="1.60" fill="#9a9a9a"/>
<rect x="1179.50" y="560.00" width="1.60" height="11.00" fill="#9a9a9a"/>
<rect x="944" y="379.1" width="238.8" height="370.9" fill="none" stroke="#ec1c24" stroke-width="4"/>
</g>
<g id="viz-pane">
<rect x="1190.00" y="45.00" width="172.50" height="804.00" fill="#454545"/>
<rect x="1190.00" y="45.00" width="172.50" height="45.00" fill="#212121"/>
<text x="1202.0" y="72.2" font-size="14.5" fill="#fff" font-weight="bold" textLength="103" lengthAdjust="spacingAndGlyphs">VISUALIZATIONS</text>
<path d="M1343 62.5l5.5 5.5-5.5 5.5" fill="none" stroke="#ddd" stroke-width="1.3"/>
<rect x="1190.00" y="90.00" width="172.50" height="119.00" fill="#404040"/>
<rect x="1190.00" y="209.00" width="172.50" height="35.00" fill="#232323"/>
<rect x="1202.00" y="241.30" width="38.00" height="2.20" fill="#f2c811"/>
<g transform="translate(1199.3 95.4)"><path d="M0.5 0v16.5h16.5" stroke="#7c7c7c" stroke-width="1" fill="none"/><rect x="1" y="2.5" width="4" height="5" fill="#bcbcbc"/><rect x="5" y="2.5" width="7" height="5" fill="#ee8c3c"/><rect x="1" y="9.5" width="7" height="5" fill="#bcbcbc"/><rect x="8" y="9.5" width="7.5" height="5" fill="#ee8c3c"/></g>
<g transform="translate(1226.0 95.4)"><path d="M0.5 0v16.5h16.5" stroke="#7c7c7c" stroke-width="1" fill="none"/><rect x="3.5" y="11" width="4.5" height="5" fill="#bcbcbc"/><rect x="3.5" y="5" width="4.5" height="6" fill="#ee8c3c"/><rect x="10" y="9" width="4.5" height="7" fill="#bcbcbc"/><rect x="10" y="1.5" width="4.5" height="7.5" fill="#ee8c3c"/></g>
<g transform="translate(1252.7 95.4)"><path d="M0.5 0v16.5h16.5" stroke="#7c7c7c" stroke-width="1" fill="none"/><rect x="1" y="1.5" width="10" height="2.8" fill="#f2c47c"/><rect x="1" y="4.3" width="15" height="2.8" fill="#8db6e3"/><rect x="1" y="8.8" width="12.5" height="2.8" fill="#f2c47c"/><rect x="1" y="11.6" width="8.5" height="2.8" fill="#8db6e3"/></g>
<g transform="translate(1279.4 95.4)"><path d="M0.5 0v16.5h16.5" stroke="#7c7c7c" stroke-width="1" fill="none"/><rect x="2" y="7" width="3" height="9" fill="#f2c47c"/><rect x="5" y="1" width="3" height="15" fill="#8db6e3"/><rect x="10" y="4" width="3" height="12" fill="#f2c47c"/><rect x="13" y="8" width="3" height="8" fill="#8db6e3"/></g>
<g transform="translate(1306.1 95.4)"><path d="M0.5 0v16.5h16.5" stroke="#7c7c7c" stroke-width="1" fill="none"/><rect x="1" y="2.5" width="4" height="5" fill="#7e7e7e"/><rect x="5" y="2.5" width="10" height="5" fill="#8db6e3"/><rect x="1" y="9.5" width="7" height="5" fill="#7e7e7e"/><rect x="8" y="9.5" width="7" height="5" fill="#8db6e3"/></g>
<g transform="translate(1332.8 95.4)"><path d="M0.5 0v16.5h16.5" stroke="#7c7c7c" stroke-width="1" fill="none"/><rect x="2.5" y="1.5" width="5" height="8" fill="#8db6e3"/><rect x="2.5" y="9.5" width="5" height="6.5" fill="#7e7e7e"/><rect x="10.5" y="1.5" width="5" height="10" fill="#8db6e3"/><rect x="10.5" y="11.5" width="5" height="4.5" fill="#7e7e7e"/></g>
<g transform="translate(1199.3 118.2)"><path d="M0.5 0v16.5h16.5" stroke="#7c7c7c" stroke-width="1" fill="none"/><path d="M.6 14.8L6 9l5-5.300 2.400.8 3.300 4.100" fill="none" stroke="#e0a994" stroke-width="1.100"/><path d="M.6 9.450l3.750-3.750 5.750 4.600 6.650-6.640" fill="none" stroke="#3f7cc0" stroke-width="1.200"/></g>
<g transform="translate(1226.0 118.2)"><path d="M0 16.5h17" stroke="#7c7c7c" stroke-width="1" fill="none"/><path d="M9 16V7.200l3.800-4.400 4.100.9V16z" fill="#ee8c3c"/><path d="M.4 16V7.400l4.100-3.700 4.600 3.500 4 3.800 3.800-1.500V16z" fill="#f6dcb4"/><path d="M9.100 7.200l3.900 3.800 3.900-1.500V13l-8-1.500z" fill="#f0a45c"/><path d="M.4 9l4.600-1 3.500 2-3 1.500-5.100-.3z" fill="#b9d2ec"/><path d="M.4 16v-5l5.600-.8 5 2.800 5.900-1.500V16z" fill="#bcbcbc"/></g>
<g transform="translate(1252.7 118.2)"><path d="M-.5 17.200V5.500l3-3.200 3.200 3.800 3.300-5 3.300 5 3-3.500 2.700 3v11.600z" fill="#f2c47c"/><path d="M-.5 17.200V10l3-2.500 3.200 3.300 3.300-4.300 3.300 4.300 3-3.300 2.700 2v7.700z" fill="#3f7cc0"/><path d="M-.5 17.200V14.300l3-2.300 3.200 3 3.300-3.800 3.300 3.800 3-3.300 2.700 2v3.500z" fill="#f0a04a"/><path d="M-.5 0v17.200" stroke="#7c7c7c" stroke-width="1"/></g>
<g transform="translate(1279.4 118.2)"><path d="M0.5 0v16.5h16.5" stroke="#7c7c7c" stroke-width="1" fill="none"/><path d="M16.5 0v16.5" stroke="#ee8c3c" stroke-width="1"/><rect x="3.5" y="3" width="4" height="6" fill="#ee8c3c"/><rect x="3.5" y="9" width="4" height="7" fill="#bcbcbc"/><rect x="10" y="7" width="4" height="5" fill="#ee8c3c"/><rect x="10" y="12" width="4" height="4" fill="#bcbcbc"/><path d="M1.5 12l4-4 4 3.5 6-5.5" fill="none" stroke="#e0573f" stroke-width="1"/></g>
<g transform="translate(1306.1 118.2)"><path d="M0.5 0v16.5h16.5" stroke="#7c7c7c" stroke-width="1" fill="none"/><path d="M16.5 0v16.5" stroke="#ee8c3c" stroke-width="1"/><rect x="2.5" y="8" width="2.8" height="8" fill="#f2c47c"/><rect x="5.3" y="1" width="2.8" height="15" fill="#8db6e3"/><rect x="9.5" y="4" width="2.8" height="12" fill="#f2c47c"/><rect x="12.3" y="7" width="2.8" height="9" fill="#8db6e3"/><path d="M1.5 12l4-3 4 3 6-5" fill="none" stroke="#e0573f" stroke-width="1"/></g>
<g transform="translate(1332.8 118.2)"><path d="M0.5 0v16.5h16.5" stroke="#7c7c7c" stroke-width="1" fill="none"/><rect x="2" y="6" width="3.3" height="3" fill="#f2c47c"/><rect x="2" y="9" width="3.3" height="3.5" fill="#ee8c3c"/><rect x="2" y="12.5" width="3.3" height="3.5" fill="#3f7cc0"/><rect x="7" y="4" width="3.3" height="4" fill="#f2c47c"/><rect x="7" y="8" width="3.3" height="4" fill="#3f7cc0"/><rect x="7" y="12" width="3.3" height="4" fill="#ee8c3c"/><rect x="12" y="3" width="3.3" height="4" fill="#f2c47c"/><rect x="12" y="7" width="3.3" height="4.5" fill="#ee8c3c"/><rect x="12" y="11.5" width="3.3" height="4.5" fill="#3f7cc0"/><path d="M5.3 9v3.5l1.7-.5V8z M10.3 8v4l1.7-.5V7z" fill="#ee8c3c" opacity=".7"/></g>
<g transform="translate(1199.3 141.1)"><path d="M0.5 0v16.5h16.5" stroke="#7c7c7c" stroke-width="1" fill="none"/><g fill="none" stroke="#f4f4f4" stroke-width="1.2"><path d="M3 16V3.5h2.5V16M12 16V2h2.5v14"/></g><rect x="6" y="4" width="2" height="6" fill="#e0573f"/><rect x="8" y="8" width="2" height="5" fill="#e0573f"/><rect x="10" y="3" width="2" height="9" fill="#3fa58c"/></g>
<g transform="translate(1226.0 141.1)"><path d="M0.5 0v16.5h16.5" stroke="#7c7c7c" stroke-width="1" fill="none"/><circle cx="4" cy="6" r="1.3" fill="#e0573f"/><circle cx="8.5" cy="10" r="1.3" fill="#f2c47c"/><circle cx="3.5" cy="12.5" r="1.3" fill="#3f7cc0"/><circle cx="12" cy="4" r="1.3" fill="#5fc4b0"/><circle cx="15.5" cy="10" r="1.3" fill="#3f7cc0"/><circle cx="12.5" cy="14" r="1.3" fill="#bcbcbc"/></g>
<g transform="translate(1252.7 141.1)"><circle cx="8.5" cy="8.5" r="8.3" fill="#8db6e3"/><path d="M8.5 8.5V.2A8.3 8.3 0 0 0 .9 5.3z" fill="#f5d9a8"/><path d="M8.5 8.5L.9 5.3A8.3 8.3 0 0 0 3.6 15.2z" fill="#efb3a4"/><path d="M8.5 8.5V.2M8.5 8.5L.9 5.3M8.5 8.5L3.6 15.2" stroke="#3d3d3d" stroke-width=".8"/></g>
<g transform="translate(1279.4 141.1)"><circle cx="8.5" cy="8.5" r="6.3" fill="none" stroke="#3f7cc0" stroke-width="4.2"/><path d="M4.300 3.800A6.300 6.300 0 0 1 10 2.400" fill="none" stroke="#8db6e3" stroke-width="4.2"/><path d="M11 2.700A6.300 6.300 0 0 1 14.300 6" fill="none" stroke="#f2c47c" stroke-width="4.2"/><g stroke="#404040" stroke-width=".6"><path d="M8.500 8.500L3 1.500M8.500 8.500L10.800 .5M8.500 8.500L16.500 5.500M8.500 8.500L.5 11M8.500 8.500L13 16.500"/></g><circle cx="8.5" cy="8.5" r="4.1" fill="#404040"/></g>
<g transform="translate(1306.1 141.1)"><rect x="0.5" y="0.5" width="16" height="16" fill="#9a9a9a"/><rect x="0.8" y="0.8" width="2.6" height="4.4" fill="#f4f4f4"/><rect x="0.8" y="5.8" width="2.6" height="3" fill="#f4f4f4"/><rect x="4" y="0.8" width="7.8" height="3.6" fill="#c9dcf2"/><rect x="4" y="5" width="7.8" height="3.8" fill="#c9dcf2"/><rect x="12.4" y="0.8" width="3.8" height="8" fill="#c9dcf2"/><rect x="0.8" y="9.6" width="6.8" height="6.6" fill="#f4f4f4"/><rect x="8.2" y="9.6" width="8" height="6.6" fill="#f4f4f4"/></g>
<g transform="translate(1332.8 141.1)"><circle cx="8.5" cy="8.5" r="7.6" fill="#fbfbfb" stroke="#3f7cc0" stroke-width="1.3"/><g fill="none" stroke="#8fbfae" stroke-width=".7"><ellipse cx="8.5" cy="8.5" rx="3.6" ry="7.2"/><path d="M2.500 5h12M1.500 8.500h14M2.500 12h12"/></g></g>
<g transform="translate(1199.3 164.0)"><path d="M.5 2l4 1 3-1.5 3 2-1 3 2 2-3 3-3-.5-2 2-3-2z" fill="#bcbcbc"/><path d="M2 6l4 .5 1 3-3 2.5-3.5-2z" fill="#3f7cc0"/><path d="M11 1.5l2.5-1 .5 7-2 2.5-2-3z" fill="#f2c47c"/><path d="M5.500 12l4 .5 5-2 1.500 3.500-4 2.500-5-.500z" fill="#8db6e3"/><path d="M1 13l3 .5 1 2.500-3 .5z" fill="#bcbcbc"/></g>
<g transform="translate(1226.0 164.0)"><rect x="0" y="1.5" width="17" height="3" fill="#8db6e3"/><rect x="2.5" y="5.5" width="12" height="3" fill="#f2c47c"/><rect x="4.5" y="9.5" width="8" height="3" fill="#8db6e3"/><rect x="6" y="13.5" width="5" height="3" fill="#8db6e3"/></g>
<g transform="translate(1252.7 164.0)"><path d="M2 13A6.5 6.5 0 0 1 12 5.500" fill="none" stroke="#f2c47c" stroke-width="3.2"/><path d="M12 5.500A6.500 6.500 0 0 1 15 13" fill="none" stroke="#5fa890" stroke-width="3.2"/><path d="M7.500 13.500l4-4.500" stroke="#505050" stroke-width="1.8"/></g>
<g transform="translate(1279.4 164.0)"><rect x="0" y="2.5" width="17" height="12" fill="#f4f4f4"/><text x="8.5" y="10" font-size="7.5" font-weight="bold" fill="#3f7cc0" text-anchor="middle">123</text><rect x="3" y="11.5" width="11" height="1.2" fill="#bcbcbc"/></g>
<g transform="translate(1306.1 164.0)"><rect x="0.5" y="0.5" width="16" height="16" fill="#f4f4f4"/><rect x="3" y="2.5" width="1.8" height="12" fill="#bcbcbc"/><rect x="6.5" y="3" width="6" height="1.6" fill="#3f7cc0"/><rect x="6.5" y="5.5" width="4" height="1.2" fill="#8db6e3"/><rect x="6.5" y="9" width="6" height="1.6" fill="#3f7cc0"/><rect x="6.5" y="11.5" width="4" height="1.2" fill="#8db6e3"/></g>
<g transform="translate(1332.8 164.0)"><rect x="0" y="2.5" width="17" height="12" fill="#f4f4f4"/><path d="M3 9.500l3-4 3 4z" fill="#3f9c7a"/><path d="M9.500 5.500h6l-3 4z" fill="#d64545"/><rect x="3" y="11.5" width="11" height="1.2" fill="#bcbcbc"/></g>
<g transform="translate(1199.3 186.8)"><rect x="0" y="0.5" width="16" height="16" fill="#f4f4f4"/><rect x="0" y="0.5" width="16" height="2.5" fill="#3f7cc0"/><rect x="2.5" y="5" width="2.5" height="1.6" fill="#f2c47c"/><rect x="2.5" y="8" width="2.5" height="1.6" fill="#ee8c3c"/><rect x="2.5" y="11" width="2.5" height="1.6" fill="#e39a8a"/><rect x="2.5" y="14" width="2.5" height="1.2" fill="#8db6e3"/><path d="M7.500 8.500h10l-3.800 4.500v5h-2.400v-5z" fill="#bcbcbc"/></g>
<g transform="translate(1226.0 186.8)"><rect x="-1.100" y="-1" width="19.200" height="19.200" fill="none" stroke="#f2c811" stroke-width="1.4"/><rect x="0.5" y="0.5" width="16" height="16" fill="#5a5a5a"/><rect x="1.1" y="1.3" width="4.3" height="4.3" fill="#8c8c8c"/><rect x="1.1" y="6.3" width="4.3" height="4.3" fill="#8c8c8c"/><rect x="1.1" y="11.3" width="4.3" height="4.3" fill="#8c8c8c"/><rect x="6.1" y="1.3" width="4.3" height="4.3" fill="#8c8c8c"/><rect x="6.1" y="6.3" width="4.3" height="4.3" fill="#8c8c8c"/><rect x="6.1" y="11.3" width="4.3" height="4.3" fill="#8c8c8c"/><rect x="11.1" y="1.3" width="4.3" height="4.3" fill="#8c8c8c"/><rect x="11.1" y="6.3" width="4.3" height="4.3" fill="#8c8c8c"/><rect x="11.1" y="11.3" width="4.3" height="4.3" fill="#8c8c8c"/></g>
<g transform="translate(1252.7 186.8)"><rect x="0.5" y="0.5" width="16" height="16" fill="#f4f4f4"/><rect x="0.5" y="0.5" width="16" height="3" fill="#8db6e3"/><rect x="0.5" y="0.5" width="4.5" height="16" fill="#dbe7f5"/><path d="M.5 3.500h16M.5 8h16M.5 12.500h16M5 .5v16M10.500 .5v16" stroke="#8a9bb5" stroke-width=".8"/></g>
<g transform="translate(1279.4 186.8)"><text x="2.300" y="17.400" font-size="22.5" font-weight="bold" fill="#8db6e3" textLength="12" lengthAdjust="spacingAndGlyphs">R</text></g>
<g transform="translate(1306.1 186.8)"><circle cx="3" cy="6.500" r="1.100" fill="#f4f4f4"/><circle cx="8.5" cy="6.500" r="1.100" fill="#f4f4f4"/><circle cx="14" cy="6.500" r="1.100" fill="#f4f4f4"/></g>
<g fill="none" stroke="#fff" stroke-width="1.2"><path d="M1211.500 216.2h18"/><rect x="1211" y="218.8" width="19" height="7" stroke-dasharray="2 1.200"/><rect x="1211" y="228" width="19" height="6.500" stroke-dasharray="2 1.200"/></g>
<g fill="none" stroke="#fff" stroke-width="1.300"><rect x="1251.500" y="216.300" width="14.5" height="4.500" rx="2"/><path d="M1266 218.500h2.500v5.800h-8.500v2.500"/><rect x="1258" y="226.800" width="4" height="8.200" rx="1"/></g>
<g fill="none" stroke="#fff" stroke-width="1.300"><circle cx="1295.500" cy="224" r="7.500"/><path d="M1301 229.500l5.500 6"/><path d="M1289 225l3-2.500 2.500 2 5-4.500" stroke-width="1"/></g>
<rect x="1291.50" y="225.00" width="1.60" height="5.00" fill="#fff"/>
<rect x="1294.50" y="226.00" width="1.60" height="4.00" fill="#fff"/>
<rect x="1297.50" y="224.00" width="1.60" height="6.00" fill="#fff"/>
<text x="1202.0" y="260.6" font-size="11.5" fill="#fff" textLength="32.3" lengthAdjust="spacingAndGlyphs">Values</text>
<rect x="1195" y="270.2" width="160.4" height="81.8" rx="4" fill="none" stroke="#6a6a6a" stroke-width="1" stroke-dasharray="3 2"/>
<rect x="1197.5" y="274" width="155.3" height="20.3" rx="3" fill="#2b2b2b" stroke="#1c1c1c" stroke-width="1"/>
<text x="1202.0" y="288.1" font-size="12" fill="#fff" textLength="38" lengthAdjust="spacingAndGlyphs">Usuário</text>
<path d="M1326 282.9h6.4l-3.2 3.4z" fill="#888"/>
<path d="M1341 280.7l7 7M1348 280.7l-7 7" stroke="#ddd" stroke-width="1.1"/>
<rect x="1197.5" y="298" width="155.3" height="20.3" rx="3" fill="#2b2b2b" stroke="#1c1c1c" stroke-width="1"/>
<text x="1202.0" y="312.1" font-size="12" fill="#fff" textLength="52" lengthAdjust="spacingAndGlyphs">Entrou em</text>
<path d="M1326 306.9h6.4l-3.2 3.4z" fill="#888"/>
<path d="M1341 304.7l7 7M1348 304.7l-7 7" stroke="#ddd" stroke-width="1.1"/>
<rect x="1197.5" y="321.7" width="155.3" height="20.3" rx="3" fill="#2b2b2b" stroke="#1c1c1c" stroke-width="1"/>
<text x="1202.0" y="335.8" font-size="12" fill="#fff" textLength="21.5" lengthAdjust="spacingAndGlyphs">Dias</text>
<path d="M1326 330.6h6.4l-3.2 3.4z" fill="#888"/>
<path d="M1341 328.4l7 7M1348 328.4l-7 7" stroke="#ddd" stroke-width="1.1"/>
<rect x="1190.00" y="356.30" width="172.50" height="33.70" fill="#212121"/>
<text x="1204.0" y="381.0" font-size="14.5" fill="#fff" font-weight="bold" textLength="52.3" lengthAdjust="spacingAndGlyphs">FILTERS</text>
<text x="1202.0" y="414.9" font-size="11.5" fill="#fff" textLength="86.8" lengthAdjust="spacingAndGlyphs">Visual level filters</text>
<rect x="1195" y="428.6" width="160.4" height="151.7" rx="4" fill="none" stroke="#6a6a6a" stroke-width="1" stroke-dasharray="3 2"/>
<rect x="1197.5" y="431.7" width="155.3" height="23.3" rx="3" fill="#2b2b2b" stroke="#1c1c1c" stroke-width="1"/>
<text x="1205.8" y="446.2" font-size="12" fill="#fff" textLength="46.5" lengthAdjust="spacingAndGlyphs">Dias (All)</text>
<rect x="1197.5" y="459" width="155.3" height="24" rx="3" fill="#2b2b2b" stroke="#1c1c1c" stroke-width="1"/>
<text x="1205.8" y="474.0" font-size="12" fill="#fff" textLength="77" lengthAdjust="spacingAndGlyphs">Entrou em (All)</text>
<rect x="1197.5" y="487" width="155.3" height="40" rx="3" fill="#2b2b2b" stroke="#1c1c1c" stroke-width="1"/>
<text x="1205.8" y="501.5" font-size="12" fill="#fff" textLength="75" lengthAdjust="spacingAndGlyphs">Qt_Mensagens</text>
<text x="1205.8" y="520.4" font-size="12" fill="#fff" textLength="17.5" lengthAdjust="spacingAndGlyphs">is 0</text>
<path d="M1333.5 493.3l7 7M1340.5 493.3l-7 7" stroke="#ccc" stroke-width="1.1"/>
<rect x="1197.5" y="531" width="155.3" height="39.5" rx="3" fill="#2b2b2b" stroke="#1c1c1c" stroke-width="1"/>
<text x="1205.8" y="545.3" font-size="12" fill="#fff" textLength="38.5" lengthAdjust="spacingAndGlyphs">Usuário</text>
<text x="1205.8" y="563.8" font-size="12" fill="#fff" textLength="115.5" lengthAdjust="spacingAndGlyphs">top 100 by Qt_Dias_S...</text>
<rect x="1196.7" y="486" width="158.3" height="85.8" fill="none" stroke="#ec1c24" stroke-width="1.8"/>
<text x="1202.0" y="602.8" font-size="11.5" fill="#fff" textLength="81.6" lengthAdjust="spacingAndGlyphs">Page level filters</text>
<rect x="1194.6" y="615.4" width="161.3" height="24.5" rx="2" fill="#4f4f4f" stroke="#6c6c6c" stroke-width="1" stroke-dasharray="2 2"/>
<text x="1203.0" y="632.8" font-size="11.5" fill="#c4c4c4" textLength="105" lengthAdjust="spacingAndGlyphs">Drag data fields here</text>
<text x="1202.3" y="662.4" font-size="11.5" fill="#fff" textLength="90.3" lengthAdjust="spacingAndGlyphs">Report level filters</text>
<rect x="1194.6" y="674.2" width="161.3" height="24.8" rx="2" fill="#4f4f4f" stroke="#6c6c6c" stroke-width="1" stroke-dasharray="2 2"/>
<text x="1203.0" y="692.0" font-size="11.5" fill="#c4c4c4" textLength="105" lengthAdjust="spacingAndGlyphs">Drag data fields here</text>
<rect x="1190.00" y="703.20" width="172.50" height="33.80" fill="#212121"/>
<text x="1203.8" y="727.6" font-size="14.5" fill="#fff" font-weight="bold" textLength="97.7" lengthAdjust="spacingAndGlyphs">DRILLTHROUGH</text>
<text x="1199.3" y="757.7" font-size="11.5" fill="#fff" textLength="70.3" lengthAdjust="spacingAndGlyphs">Keep all filters</text>
<text x="1203.0" y="780.0" font-size="11.5" fill="#fff" textLength="15.5" lengthAdjust="spacingAndGlyphs">Off</text>
<line x1="1242.00" y1="776.40" x2="1259.70" y2="776.40" stroke="#fff" stroke-width="1.3"/>
<circle cx="1237" cy="776.4" r="4.6" fill="#454545" stroke="#fff" stroke-width="1.5"/>
<rect x="1194.6" y="792.2" width="161.3" height="24" rx="2" fill="#4f4f4f" stroke="#6c6c6c" stroke-width="1" stroke-dasharray="2 2"/>
<text x="1203.0" y="809.0" font-size="11.5" fill="#c4c4c4" textLength="142.4" lengthAdjust="spacingAndGlyphs">Drag drillthrough fields here</text>
</g>
<g id="fields-pane">
<rect x="1362.50" y="45.00" width="237.50" height="804.00" fill="#454545"/>
<rect x="1362.50" y="45.00" width="237.50" height="45.00" fill="#212121"/>
<rect x="1362.50" y="90.00" width="237.50" height="38.00" fill="#404040"/>
<line x1="1362.40" y1="45.00" x2="1362.40" y2="849.00" stroke="#050505" stroke-width="1.2"/>
<text x="1374.4" y="72.2" font-size="14.5" fill="#fff" font-weight="bold" textLength="44.6" lengthAdjust="spacingAndGlyphs">FIELDS</text>
<path d="M1581 62.5l5.5 5.5-5.5 5.5" fill="none" stroke="#ddd" stroke-width="1.3"/>
<rect x="1367.5" y="94.5" width="228" height="28" fill="#252525" stroke="#0c0c0c" stroke-width="1.4"/>
<circle cx="1387" cy="105.5" r="4" fill="none" stroke="#bbb" stroke-width="1.3"/><path d="M1384.2 108.6l-5 5.5" stroke="#bbb" stroke-width="1.3"/>
<text x="1401.0" y="112.6" font-size="11.5" fill="#aaa" textLength="36" lengthAdjust="spacingAndGlyphs">Search</text>
<path d="M1372.5 144.7l4 4-4 4z" fill="#9a9a9a"/>
<g><rect x="1384.8" y="143.89999999999998" width="12.300" height="11" fill="#ececec"/><rect x="1384.8" y="143.89999999999998" width="12.300" height="2.600" fill="#cfcfcf"/>
<path d="M1384.8 146.8h12.300M1384.8 149.6h12.300M1384.8 152.3h12.300M1388.9 146.8v8.100M1393.0 146.8v8.100" stroke="#555" stroke-width=".8" fill="none"/></g>
<text x="1408.8" y="152.5" font-size="12" fill="#fff" textLength="107.1" lengthAdjust="spacingAndGlyphs">Conversas_Whatsapp</text>
<path d="M1372.5 170.4l4 4-4 4z" fill="#9a9a9a"/>
<g><rect x="1384.8" y="169.6" width="12.300" height="11" fill="#ececec"/><rect x="1384.8" y="169.6" width="12.300" height="2.600" fill="#cfcfcf"/>
<path d="M1384.8 172.5h12.300M1384.8 175.3h12.300M1384.8 178.0h12.300M1388.9 172.5v8.100M1393.0 172.5v8.100" stroke="#555" stroke-width=".8" fill="none"/></g>
<text x="1408.8" y="178.2" font-size="12" fill="#fff" textLength="110.4" lengthAdjust="spacingAndGlyphs">Palavras_Mais_Faladas</text>
<path d="M1372.5 196.0l4 4-4 4z" fill="#9a9a9a"/>
<g><rect x="1384.8" y="195.2" width="12.300" height="11" fill="#ececec"/><rect x="1384.8" y="195.2" width="12.300" height="2.600" fill="#cfcfcf"/>
<path d="M1384.8 198.1h12.300M1384.8 200.9h12.300M1384.8 203.6h12.300M1388.9 198.1v8.100M1393.0 198.1v8.100" stroke="#555" stroke-width=".8" fill="none"/></g>
<text x="1408.8" y="203.8" font-size="12" fill="#fff" textLength="175.4" lengthAdjust="spacingAndGlyphs">Palavras_Mais_Faladas_Por_Usuario</text>
<rect x="1363.20" y="213.40" width="236.80" height="25.20" fill="#383838"/>
<path d="M1377 223.0v6h-6z" fill="#9a9a9a"/>
<g><rect x="1384.8" y="221.2" width="12.300" height="11" fill="#ececec"/><rect x="1384.8" y="221.2" width="12.300" height="2.600" fill="#cfcfcf"/>
<path d="M1384.8 224.1h12.300M1384.8 226.9h12.300M1384.8 229.6h12.300M1388.9 224.1v8.100M1393.0 224.1v8.100" stroke="#555" stroke-width=".8" fill="none"/></g>
<text x="1408.8" y="229.8" font-size="12" fill="#f2c811" textLength="100.1" lengthAdjust="spacingAndGlyphs">Usuarios_No_Grupo</text>
<rect x="1367.800" y="243" width="225.400" height="19" rx="2.500" fill="#5e5e5e"/>
<rect x="1395.20" y="247.60" width="11.60" height="11.60" fill="#f2c811"/>
<path d="M1397.7 253.6l2.7 2.900 4.600-6" fill="none" stroke="#222" stroke-width="1.400"/>
<text x="1427.0" y="256.9" font-size="12" fill="#fff" textLength="55.7" lengthAdjust="spacingAndGlyphs">Ds_Usuario</text>
<rect x="1367.800" y="264" width="225.400" height="19" rx="2.500" fill="#5e5e5e"/>
<rect x="1395.20" y="268.60" width="11.60" height="11.60" fill="#f2c811"/>
<path d="M1397.7 274.6l2.7 2.900 4.600-6" fill="none" stroke="#222" stroke-width="1.400"/>
<text x="1427.0" y="277.9" font-size="12" fill="#fff" textLength="55" lengthAdjust="spacingAndGlyphs">Dt_Entrada</text>
<rect x="1367.800" y="285" width="225.400" height="19" rx="2.500" fill="#5e5e5e"/>
<rect x="1395.20" y="289.60" width="11.60" height="11.60" fill="#f2c811"/>
<path d="M1397.7 295.6l2.7 2.900 4.600-6" fill="none" stroke="#222" stroke-width="1.400"/>
<text x="1411.3" y="299.8" font-size="12.5" fill="#b4b4b4" textLength="8.8" lengthAdjust="spacingAndGlyphs">Σ</text>
<text x="1427.0" y="298.9" font-size="12" fill="#fff" textLength="93.6" lengthAdjust="spacingAndGlyphs">Qt_Dias_Sem_Falar</text>
<rect x="1367.800" y="306" width="225.400" height="19" rx="2.500" fill="#5e5e5e"/>
<rect x="1395.800" y="311.2" width="10.400" height="10.400" fill="#fff" stroke="#cfcfcf" stroke-width="1.200"/>
<text x="1411.3" y="320.8" font-size="12.5" fill="#b4b4b4" textLength="8.8" lengthAdjust="spacingAndGlyphs">Σ</text>
<text x="1427.0" y="319.9" font-size="12" fill="#fff" textLength="74.2" lengthAdjust="spacingAndGlyphs">Qt_Mensagens</text>
<path d="M1372.5 338.3l4 4-4 4z" fill="#9a9a9a"/>
<g><rect x="1384.8" y="337.5" width="12.300" height="11" fill="#ececec"/><rect x="1384.8" y="337.5" width="12.300" height="2.600" fill="#cfcfcf"/>
<path d="M1384.8 340.4h12.300M1384.8 343.2h12.300M1384.8 345.9h12.300M1388.9 340.4v8.100M1393.0 340.4v8.100" stroke="#555" stroke-width=".8" fill="none"/></g>
<text x="1408.8" y="346.1" font-size="12" fill="#fff" textLength="124" lengthAdjust="spacingAndGlyphs">Usuarios_Nunca_Falaram</text>
</g>
<g id="annotation"><path d="M1457.400 429.900L1371.500 497.600" stroke="#ec1c24" stroke-width="2" fill="none"/><path d="M1363.200 504.200l15.100-2.800-8.800-10.900z" fill="#ec1c24"/></g>
</svg>
</body></html>
